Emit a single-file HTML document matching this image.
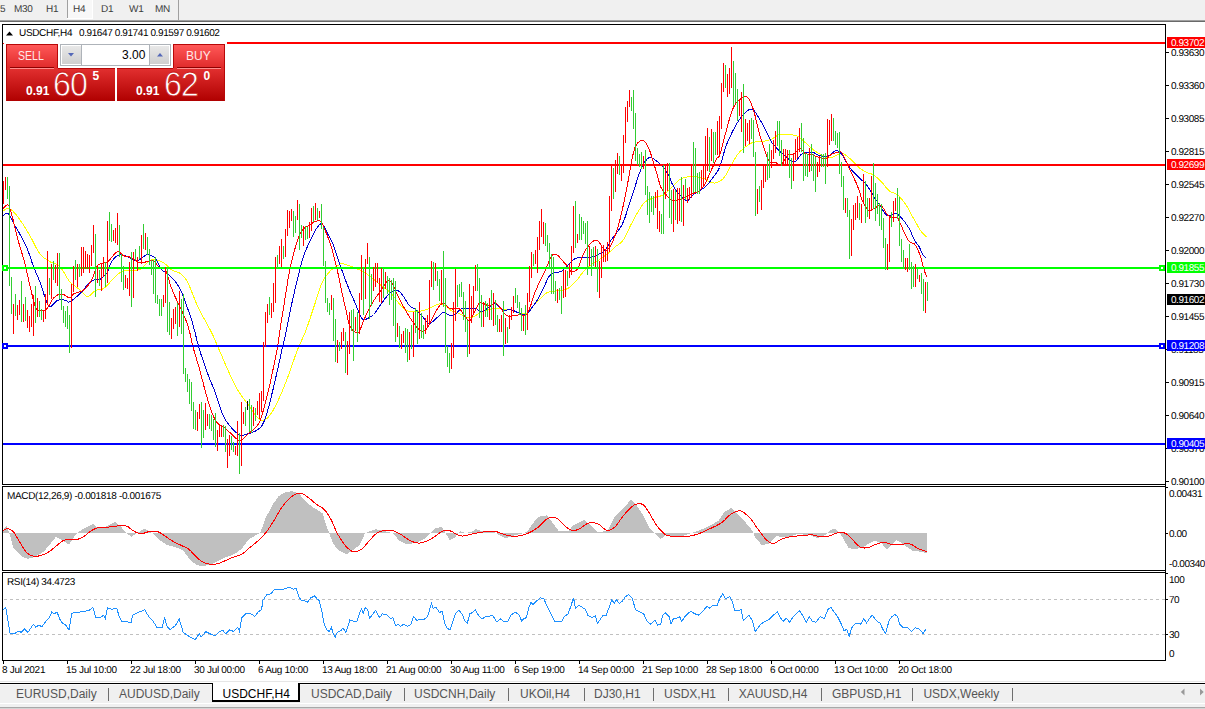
<!DOCTYPE html>
<html><head><meta charset="utf-8"><title>USDCHF,H4</title>
<style>
html,body{margin:0;padding:0;background:#fff;}
body{width:1205px;height:709px;overflow:hidden;position:relative;font-family:"Liberation Sans",sans-serif;}
.abs{position:absolute;white-space:nowrap;}
.tb{position:absolute;left:0;top:0;width:1205px;height:20px;background:#f0f0f0;}
.tbl1{position:absolute;left:0;top:20px;width:1205px;height:1px;background:#a0a0a0;}
.tbl2{position:absolute;left:0;top:21px;width:1205px;height:1px;background:#696969;}
.tf{position:absolute;top:4px;font-size:10px;line-height:10px;color:#3c3c3c;letter-spacing:-0.3px;transform:rotate(0.03deg);}
.pl{position:absolute;left:1171px;font-size:10px;line-height:10px;color:#000;letter-spacing:-0.45px;transform:rotate(0.03deg);}
.tag{position:absolute;left:1167px;width:38px;height:11px;color:#fff;}
.tag span{position:absolute;left:4px;top:1px;font-size:10px;line-height:10px;letter-spacing:-0.45px;transform:rotate(0.03deg);}
.tl{position:absolute;top:665px;font-size:10px;line-height:10px;color:#000;letter-spacing:-0.3px;transform:rotate(0.03deg);}
.tabbar{position:absolute;left:0;top:684px;width:1205px;height:23px;background:#f0f0f0;}
.tab{position:absolute;top:687px;font-size:12px;line-height:14px;color:#555;}
.sep{position:absolute;top:688px;width:1px;height:13px;background:#6e6e6e;}
</style></head><body>

<div class="tb"></div><div class="tbl1"></div><div class="tbl2"></div>
<div class="abs" style="left:67px;top:0;width:1px;height:18px;background:#a0a0a0"></div>
<div class="abs" style="left:68px;top:0;width:24px;height:18px;background:#f8f8f8"></div>
<div class="abs" style="left:92px;top:0;width:1px;height:19px;background:#fff"></div>
<div class="abs" style="left:67px;top:18px;width:26px;height:1px;background:#fff"></div>
<div class="abs" style="left:178px;top:0;width:1px;height:20px;background:#a0a0a0"></div>
<div class="tf" style="left:0px">5</div>
<div class="tf" style="left:14px">M30</div>
<div class="tf" style="left:45.5px">H1</div>
<div class="tf" style="left:72.5px">H4</div>
<div class="tf" style="left:101px">D1</div>
<div class="tf" style="left:128.5px">W1</div>
<div class="tf" style="left:155px">MN</div>
<svg id="chart" width="1205" height="709" viewBox="0 0 1205 709" style="position:absolute;left:0;top:0">
<g fill="none" stroke-width="1" shape-rendering="crispEdges">
<polyline stroke="#ffff00" points="3,210.8 3.6,210.5 4.4,210 5.4,209.4 6.4,208.9 7.6,208.5 8.8,208.4 10,208.8 10.9,209.4 11.8,210.1 12.8,211 13.7,212 14.8,213.2 15.8,214.4 16.8,215.7 17.9,217.1 18.9,218.4 19.9,219.8 20.9,221.2 21.9,222.6 22.9,224.1 23.9,225.7 24.9,227.3 25.9,229 26.9,230.6 27.9,232.3 28.9,234 29.9,235.7 30.9,237.5 31.9,239.3 32.9,241.3 33.9,243.2 34.8,245.2 35.8,247.1 36.8,249 37.8,250.7 38.8,252.3 39.8,253.7 40.8,254.9 41.8,256 42.8,256.9 43.8,257.7 44.8,258.5 45.8,259.1 46.8,259.8 47.8,260.4 48.8,261 49.8,261.6 50.8,262.2 51.8,262.6 52.8,263 53.8,263.3 54.8,263.7 55.8,264 56.8,264.5 57.8,265 58.8,265.7 59.8,266.6 60.8,267.7 61.8,269.1 62.8,270.6 63.8,272.2 64.8,273.9 65.7,275.6 66.7,277.3 67.7,278.9 68.7,280.3 69.7,281.6 70.7,282.7 71.7,283.6 72.8,284.5 73.8,285.3 74.8,286.1 75.8,286.7 76.9,287.4 77.8,288.1 78.8,288.8 79.7,289.5 80.8,290.5 81.8,291.6 82.8,292.8 83.8,293.9 84.7,294.9 85.7,295.7 86.6,296.3 87.6,296.5 88.6,296.3 89.6,295.8 90.6,295 91.6,294.1 92.6,293 93.6,292 94.6,291.1 95.6,290.5 96.6,290.1 97.6,289.9 98.6,289.7 99.6,289.6 100.6,289.5 101.6,289.3 102.6,289 103.6,288.5 104.6,287.8 105.6,287 106.5,286 107.5,285 108.5,283.9 109.5,282.8 110.5,281.7 111.6,280.6 112.5,279.7 113.5,278.7 114.5,277.7 115.5,276.7 116.5,275.7 117.6,274.7 118.6,273.7 119.6,272.9 120.6,272.2 121.5,271.6 122.6,271.1 123.6,270.8 124.6,270.6 125.5,270.6 126.4,270.6 127.4,270.7 128.4,270.7 129.5,270.6 130.4,270.5 131.4,270.5 132.4,270.5 133.4,270.5 134.4,270.5 135.5,270.4 136.5,270.3 137.5,270.2 138.5,269.9 139.4,269.6 140.5,269 141.6,268.2 142.6,267.2 143.6,266.2 144.6,265.2 145.6,264.2 146.5,263.3 147.4,262.6 148.5,261.8 149.4,261.1 150.3,260.5 151.2,260 152.2,259.7 153.4,259.6 154.2,259.6 155.2,259.8 156.1,259.9 157.2,260.2 158.2,260.5 159.3,260.8 160.3,261.2 161.4,261.6 162.4,262.1 163.3,262.6 164.4,263.3 165.4,264.1 166.4,265.1 167.4,266 168.3,267 169.3,268 170.3,268.8 171.3,269.6 172.3,270.2 173.3,270.6 174.3,271 175.3,271.4 176.4,271.7 177.4,272.1 178.4,272.5 179.4,273 180.3,273.6 181.4,274.5 182.5,275.4 183.5,276.4 184.5,277.5 185.4,278.8 186.4,280.1 187.3,281.6 188.3,283.6 189.3,285.8 190.3,288.2 191.3,290.6 192.2,293.1 193.2,295.5 194.1,297.7 195,299.9 195.8,302 196.8,304.3 197.9,306.8 199.2,309.6 200,311.2 200.9,312.9 201.9,314.7 202.9,316.6 204,318.5 205.1,320.5 206.2,322.4 207.3,324.4 208.3,326.4 209.4,328.3 210.3,330.1 211.2,331.8 212.4,334.2 213.4,336.4 214.3,338.5 215.2,340.6 216.1,342.7 217,344.9 218,347.2 219.1,349.7 220,351.7 220.9,353.8 221.9,356.1 222.9,358.4 223.9,360.8 224.9,363.2 225.9,365.5 226.9,367.8 227.9,370 228.8,372.1 229.7,374 230.8,376.4 231.8,378.5 232.7,380.5 233.6,382.4 234.5,384.2 235.4,386 236.4,387.8 237.6,389.8 238.5,391.2 239.4,392.6 240.4,394.1 241.4,395.6 242.5,397.1 243.6,398.6 244.7,400.1 245.7,401.5 246.8,403 247.8,404.3 248.7,405.6 249.6,406.8 250.7,408.3 251.7,409.8 252.7,411.2 253.6,412.5 254.5,413.7 255.3,414.9 256.1,415.9 256.9,416.9 257.6,417.7 258.7,418.9 259.7,419.9 260.5,420.5 261.4,420.7 262.5,420.7 263.4,420.5 264.3,420.1 265.3,419.6 266.3,418.9 267.4,418 268.4,417 269.5,415.7 270.4,414.5 271.4,413.1 272.3,411.6 273.3,409.9 274.3,408.1 275.3,406.2 276.4,404.1 277.5,401.8 278.4,399.8 279.4,397.7 280.4,395.5 281.4,393.2 282.4,390.7 283.4,388.2 284.4,385.7 285.5,383.1 286.5,380.5 287.5,377.9 288.5,375.2 289.5,372.4 290.5,369.5 291.5,366.6 292.6,363.6 293.6,360.7 294.6,357.8 295.5,355.1 296.5,352.4 297.4,350 298.4,347.5 299.4,345.3 300.3,343.2 301.2,341.2 302.1,339.3 303,337.3 303.9,335.4 304.8,333.3 305.7,331 306.7,328.3 307.7,325.5 308.7,322.5 309.7,319.6 310.7,316.5 311.7,313.5 312.7,310.5 313.7,307.5 314.7,304.4 315.7,301.3 316.7,298 317.7,294.8 318.7,291.7 319.7,288.7 320.7,286 321.7,283.6 322.7,281.5 323.7,279.6 324.7,278 325.7,276.5 326.6,275.2 327.6,274 328.6,272.8 329.6,271.7 330.6,270.6 331.7,269.7 332.7,268.8 333.8,268.1 334.8,267.4 335.8,266.8 336.7,266.2 337.6,265.7 338.7,265 339.6,264.4 340.5,263.9 341.4,263.7 342.6,263.7 343.4,263.8 344.3,264 345.2,264.3 346.2,264.6 347.2,265 348.2,265.4 349.3,265.8 350.5,266.3 351.6,266.7 352.5,267 353.5,267.4 354.5,267.8 355.5,268.2 356.6,268.6 357.6,269 358.7,269.5 359.7,269.9 360.7,270.3 361.7,270.8 362.6,271.2 363.5,271.7 364.7,272.4 365.7,273.1 366.7,273.8 367.6,274.5 368.5,275.2 369.5,276 370.4,276.8 371.5,277.6 372.4,278.3 373.4,279.1 374.3,279.8 375.3,280.6 376.3,281.5 377.3,282.3 378.4,283.1 379.4,284 380.4,284.8 381.4,285.6 382.4,286.4 383.5,287.2 384.5,288 385.6,288.8 386.6,289.6 387.7,290.4 388.7,291.2 389.7,292 390.6,292.8 391.4,293.6 392.6,294.9 393.6,296.3 394.5,297.6 395.4,298.9 396.3,300.3 397.4,301.6 398.3,302.6 399.2,303.7 400.2,304.8 401.2,305.9 402.2,306.9 403.3,307.9 404.3,308.8 405.3,309.5 406.3,310.1 407.2,310.6 408.2,311 409.2,311.3 410.1,311.5 411.2,311.7 412.2,311.8 413.3,311.9 414.2,311.9 415.2,311.9 416.2,311.8 417.3,311.7 418.3,311.5 419.4,311.4 420.4,311.2 421.4,310.9 422.4,310.7 423.3,310.5 424.4,310.2 425.4,309.9 426.4,309.5 427.4,309.1 428.3,308.7 429.3,308.3 430.2,307.9 431.2,307.5 432.2,307 433.2,306.5 434.3,306 435.3,305.4 436.3,304.9 437.3,304.4 438.3,304.1 439.2,303.9 440.3,303.8 441.3,303.9 442.3,304.2 443.3,304.5 444.2,305 445.2,305.5 446.2,306.2 447.1,307 448.1,307.9 449.1,308.9 450.1,309.7 451.2,310.5 452.1,311 453,311.4 454,311.7 455,312.1 456,312.4 457.1,312.7 458.1,313.1 459.1,313.5 460.1,314 461.1,314.5 462.2,315.1 463.2,315.7 464.2,316.3 465.2,316.8 466.2,317.2 467.1,317.5 468.2,317.7 469.2,317.9 470.1,317.9 471,317.8 472,317.5 473.1,317.1 473.9,316.7 474.8,316.2 475.6,315.6 476.5,315 477.5,314.3 478.4,313.6 479.4,313 480.4,312.4 481.4,311.9 482.3,311.5 483.3,311.1 484.3,310.7 485.3,310.4 486.3,310.1 487.3,309.8 488.4,309.5 489.4,309.3 490.4,309.1 491.4,308.9 492.4,308.8 493.4,308.7 494.4,308.6 495.4,308.6 496.3,308.6 497.3,308.7 498.3,308.7 499.3,308.8 500.3,308.8 501.3,308.9 502.3,309 503.3,309 504.4,309.1 505.4,309.1 506.4,309.2 507.4,309.3 508.5,309.4 509.4,309.6 510.4,309.7 511.3,309.9 512.4,310.2 513.4,310.6 514.5,311 515.4,311.4 516.4,311.9 517.3,312.3 518.3,312.6 519.2,312.9 520.3,313.2 521.4,313.4 522.4,313.6 523.5,313.7 524.5,313.7 525.4,313.7 526.2,313.5 527.3,312.9 528.1,312 528.9,310.8 530,309.4 530.8,308.6 531.6,307.7 532.6,306.7 533.6,305.7 534.6,304.6 535.7,303.6 536.7,302.5 537.7,301.5 538.7,300.5 539.7,299.4 540.8,298.2 541.8,297.1 542.8,296.1 543.8,295.1 544.8,294.2 545.7,293.5 546.8,292.8 547.8,292.4 548.7,292.1 549.6,291.9 550.6,291.7 551.7,291.5 552.6,291.3 553.5,291.2 554.5,291.1 555.5,291 556.5,290.9 557.6,290.8 558.6,290.7 559.6,290.5 560.6,290.3 561.6,290.2 562.6,290 563.6,289.9 564.6,289.7 565.6,289.4 566.6,289 567.6,288.5 568.6,287.9 569.6,287.2 570.6,286.4 571.6,285.6 572.6,284.6 573.6,283.7 574.6,282.6 575.6,281.6 576.6,280.5 577.6,279.2 578.6,277.9 579.6,276.6 580.5,275.3 581.5,274 582.5,272.7 583.5,271.6 584.5,270.6 585.5,269.6 586.5,268.7 587.5,267.8 588.5,266.9 589.5,266.1 590.5,265.4 591.5,264.6 592.5,263.9 593.5,263.2 594.5,262.6 595.5,262 596.5,261.5 597.5,260.9 598.5,260.3 599.5,259.6 600.5,258.9 601.5,258.2 602.5,257.5 603.5,256.8 604.5,256 605.5,255.3 606.5,254.5 607.5,253.7 608.5,252.9 609.5,252 610.5,251.2 611.5,250.3 612.4,249.4 613.4,248.5 614.4,247.6 615.4,246.7 616.4,245.9 617.4,245.2 618.4,244.5 619.4,243.8 620.4,243 621.4,242.1 622.4,241 623.4,239.7 624.4,238.1 625.4,236.3 626.4,234.3 627.4,232.2 628.4,230 629.4,227.8 630.4,225.8 631.4,223.8 632.4,221.9 633.4,220 634.5,218.1 635.5,216.3 636.5,214.5 637.5,212.8 638.4,211.2 639.3,209.8 640.4,208.1 641.4,206.6 642.3,205.2 643.2,204 644.2,202.9 645.3,201.9 646.2,201.2 647.1,200.6 648.1,200.1 649.1,199.6 650.1,199.2 651.1,198.7 652.2,198.3 653.3,197.9 654.2,197.6 655.2,197.3 656.2,197.1 657.2,196.8 658.2,196.6 659.3,196.3 660.3,196.1 661.3,195.7 662.3,195.4 663.2,194.9 664.3,194.2 665.3,193.5 666.3,192.6 667.3,191.7 668.3,190.8 669.2,189.8 670.2,188.8 671.2,187.9 672.2,186.9 673.2,185.9 674.2,184.8 675.2,183.7 676.2,182.6 677.2,181.7 678.2,180.8 679.2,180 680.2,179.4 681.1,178.8 682.1,178.4 683,178 684,177.7 685,177.4 686,177.2 687.1,177 688,176.9 689,176.8 690,176.7 691,176.7 692.1,176.7 693.1,176.7 694.2,176.8 695.2,176.8 696.2,176.9 697.1,177 698.2,177.1 699.3,177.3 700.4,177.6 701.4,177.8 702.4,178.1 703.4,178.4 704.3,178.7 705.1,179 706.3,179.6 707.2,180.2 708.1,180.9 709,181.5 710,182 710.9,182.3 711.8,182.6 712.8,182.9 713.8,183 714.9,183 716,182.8 716.9,182.5 717.8,182.2 718.8,181.7 719.8,181.2 720.8,180.6 721.9,179.8 722.9,178.9 723.9,177.8 724.9,176.5 725.9,174.9 726.9,173.2 727.9,171.3 728.9,169.4 729.9,167.5 730.9,165.6 731.9,163.9 732.9,162.3 733.8,160.7 734.7,159.1 735.6,157.6 736.5,156.1 737.5,154.6 738.6,153.2 739.8,151.9 740.7,151 741.6,150.1 742.6,149.3 743.6,148.4 744.6,147.5 745.7,146.7 746.7,146 747.8,145.2 748.8,144.5 749.9,143.9 750.9,143.4 751.8,142.9 752.9,142.5 753.9,142.2 755,142 755.9,141.9 756.9,141.8 757.9,141.8 758.9,141.8 759.8,141.8 760.8,141.7 761.8,141.6 762.8,141.4 763.8,141.2 764.8,141 765.9,140.7 766.9,140.5 767.9,140.2 768.9,140 769.8,139.7 770.8,139.3 771.7,139 772.8,138.5 773.8,137.9 774.8,137.2 775.8,136.5 776.8,135.9 777.8,135.3 778.7,134.8 779.7,134.4 780.7,134.2 781.6,134 782.6,134 783.5,134 784.5,134.1 785.5,134.2 786.5,134.3 787.6,134.4 788.5,134.5 789.5,134.6 790.5,134.7 791.5,134.8 792.6,135 793.6,135.2 794.7,135.4 795.7,135.7 796.7,136 797.6,136.4 798.7,137 799.7,137.7 800.8,138.5 801.7,139.3 802.7,140.2 803.7,141.1 804.6,142 805.6,142.9 806.6,143.8 807.6,144.7 808.6,145.6 809.6,146.5 810.5,147.4 811.5,148.3 812.5,149.1 813.5,149.9 814.5,150.6 815.5,151.3 816.5,152 817.5,152.7 818.5,153.3 819.5,153.8 820.5,154.4 821.5,154.9 822.5,155.4 823.5,155.9 824.5,156.4 825.5,156.9 826.5,157.3 827.5,157.6 828.5,157.8 829.5,157.9 830.5,157.8 831.5,157.5 832.6,157.1 833.6,156.7 834.7,156.1 835.6,155.7 836.6,155.2 837.5,154.9 838.6,154.5 839.5,154.2 840.5,153.8 841.4,153.6 842.3,153.6 843.4,153.9 844.3,154.3 845.3,154.9 846.2,155.6 847.3,156.3 848.3,157.2 849.4,158.1 850.4,159 851.4,159.9 852.4,160.8 853.4,161.8 854.4,162.9 855.4,163.9 856.4,165 857.4,166 858.4,166.9 859.4,167.8 860.4,168.6 861.4,169.3 862.5,170 863.5,170.7 864.5,171.3 865.5,171.8 866.4,172.3 867.3,172.8 868.4,173.2 869.4,173.5 870.3,173.7 871.2,173.9 872.2,174.2 873.3,174.8 874.2,175.4 875.2,176.2 876.2,177 877.2,177.9 878.2,178.8 879.3,179.8 880.3,180.8 881.3,181.8 882.3,182.9 883.3,184 884.3,185.3 885.2,186.5 886.2,187.7 887.2,188.9 888.2,189.9 889.2,190.8 890.2,191.5 891.2,192 892.2,192.4 893.2,192.8 894.2,193.1 895.2,193.5 896.2,194 897.2,194.7 898.2,195.5 899.2,196.5 900.2,197.5 901.2,198.6 902.2,199.7 903.2,201 904.2,202.3 905.2,203.7 906.2,205.2 907.2,206.9 908.2,208.6 909.2,210.4 910.2,212.2 911.2,214.1 912.1,215.9 913.1,217.6 914.1,219.3 915,221.1 916,222.8 917,224.6 917.9,226.2 918.8,227.8 919.7,229.3 920.6,230.6 921.8,232.1 922.9,233.5 924.1,234.7 925.1,235.7 926,236.6 926.6,237.2"/>
<polyline stroke="#0000d0" points="3,215.8 3.7,215.3 4.6,214.4 5.7,213.6 6.9,213.1 8,213.4 8.9,214.3 9.7,215.5 10.5,217.1 11.4,219 12.6,221.3 13.9,223.8 14.7,225.2 15.6,226.8 16.6,228.5 17.6,230.2 18.7,232.1 19.8,234 20.9,236 22,238 23,240 24.1,241.9 25,243.8 25.9,245.7 27.1,248.5 28.2,251.4 29.3,254.3 30.3,257.1 31.2,260 32.1,262.7 33,265.2 33.9,267.6 35,270.3 36,272.7 37,274.9 37.9,276.9 38.8,279.1 39.8,281.6 40.8,284.5 41.9,287.7 42.9,291 43.9,294.2 44.9,297.1 45.8,299.5 46.8,302.4 47.7,304.7 48.6,306.3 49.8,306.9 50.6,306.7 51.5,306.1 52.5,305.2 53.6,304.1 54.6,302.9 55.7,301.8 56.8,300.9 57.8,300.3 58.8,300 59.9,299.8 60.9,299.7 62,299.8 63,299.9 64,300 64.9,300.2 65.7,300.3 66.8,300.8 67.6,301.6 68.4,302.1 69.7,301.9 70.5,301.5 71.3,300.9 72.3,300.2 73.4,299.4 74.5,298.6 75.6,297.6 76.7,296.7 77.7,295.7 78.8,294.8 79.7,293.9 80.8,292.8 81.9,291.6 82.9,290.4 83.9,289.2 84.9,288 85.8,286.9 86.7,285.8 87.6,284.9 88.7,283.8 89.7,282.8 90.7,281.9 91.7,281.1 92.6,280.5 93.6,280 94.6,279.8 95.5,279.8 96.5,280 97.5,280.1 98.5,280 99.6,279.6 100.5,279 101.6,278.3 102.6,277.4 103.7,276.4 104.8,275.4 105.8,274.3 106.8,273.1 107.6,272 108.8,269.5 109.6,266.8 110.4,264 111.6,261.6 112.4,260.5 113.3,259.4 114.2,258.3 115.2,257.3 116.2,256.4 117.3,255.7 118.4,255.1 119.5,254.7 120.4,254.6 121.4,254.7 122.4,254.8 123.4,255.1 124.5,255.5 125.5,256 126.6,256.4 127.6,256.9 128.6,257.3 129.5,257.6 130.6,258 131.6,258.6 132.6,259.1 133.5,259.7 134.4,260.1 135.4,260.5 136.4,260.7 137.5,260.6 138.4,260.3 139.4,259.8 140.4,259.2 141.4,258.4 142.4,257.6 143.5,256.8 144.5,256 145.5,255.4 146.5,254.9 147.4,254.7 148.5,254.7 149.6,254.8 150.6,255.1 151.6,255.6 152.6,256.2 153.6,256.9 154.5,257.7 155.4,258.6 156.5,260.1 157.6,262 158.5,264.1 159.5,266.2 160.4,268.1 161.4,269.6 162.4,270.6 163.3,271.3 164.2,271.8 165.2,272.2 166.2,272.8 167.3,273.6 168.2,274.4 169.2,275.3 170.2,276.2 171.3,277.2 172.4,278.3 173.4,279.4 174.4,280.5 175.3,281.6 176.4,283.1 177.4,284.5 178.4,286.1 179.4,287.7 180.3,289.5 181.3,291.5 182.3,293.8 183.3,296.4 184.4,299.2 185.4,302.1 186.4,304.9 187.3,307.5 188.3,310.3 189.2,312.7 190.1,315.3 191.1,318.2 192.2,321.8 193.1,325 194,328.6 195,332.4 196,336.5 197,340.6 198.1,344.6 199.2,348.5 200.1,351.4 201,354.4 202,357.3 203,360.2 203.9,363.1 204.9,366 205.9,368.7 206.9,371.4 207.8,374 208.8,376.7 209.8,379.3 210.9,381.8 211.9,384.2 212.8,386.5 213.8,388.9 214.8,391.3 215.7,393.8 216.7,396.8 217.8,400 218.8,403.2 219.7,406.4 220.7,409.4 221.7,412.2 222.7,414.7 223.7,416.8 224.7,418.7 225.7,420.3 226.6,421.7 227.6,423.1 228.7,424.4 229.7,425.7 230.7,426.9 231.7,428.1 232.8,429.2 233.8,430.3 234.9,431.3 235.9,432.2 236.8,433 237.6,433.7 238.8,434.6 239.6,435.1 240.4,435.3 241.6,435.3 242.4,435.2 243.3,435.1 244.3,434.9 245.3,434.6 246.4,434.3 247.5,434 248.6,433.7 249.6,433.3 250.5,433 251.4,432.7 252.3,432.3 253.3,432 254.2,431.6 255.1,431.2 256,430.8 256.8,430.3 257.6,429.7 258.7,428.9 259.7,428.1 260.7,427.2 261.6,426 262.5,424.6 263.5,422.7 264.5,420.4 265.4,417.8 266.4,414.9 267.3,411.6 268.4,407.9 269.5,403.8 270.4,400.2 271.4,396.1 272.5,391.6 273.6,387 274.7,382.3 275.7,377.8 276.7,373.7 277.5,370 278.6,365.1 279.5,361 280.3,357.3 281.1,353.7 281.9,350 282.7,346.3 283.6,342.7 284.4,339.2 285.3,335.3 286.2,331 287.1,326.9 288,322.4 288.9,317.7 289.9,312.9 290.8,308.1 291.8,303.5 292.8,299 293.8,294.6 294.8,290.2 295.8,285.9 296.8,281.7 297.8,277.6 298.8,273.6 299.8,269.7 300.7,265.9 301.7,262.3 302.7,258.8 303.7,255.7 304.7,252.9 305.7,250.4 306.7,248.1 307.7,246 308.7,243.9 309.7,241.8 310.7,239.6 311.7,237.4 312.7,235.3 313.7,233.3 314.7,231.4 315.7,229.8 316.7,228.3 317.7,226.8 318.7,225.5 319.7,224.5 320.7,223.9 321.7,223.9 322.7,224.6 323.7,226 324.7,227.7 325.6,229.8 326.6,231.8 327.6,233.8 328.6,235.6 329.6,237.4 330.6,239.3 331.6,241.3 332.6,243.4 333.6,245.8 334.6,248.4 335.5,251.2 336.5,254.1 337.5,257.2 338.5,260.4 339.6,263.7 340.5,266.3 341.5,269 342.5,271.9 343.5,274.8 344.6,277.6 345.6,280.4 346.6,283.1 347.6,285.6 348.7,288.2 349.7,290.7 350.7,293.1 351.7,295.3 352.7,297.5 353.6,299.6 354.5,301.6 355.6,304.3 356.7,306.9 357.6,309.4 358.6,311.6 359.5,313.5 360.3,315.3 361.1,316.9 361.8,318.2 362.7,319.1 363.9,319.5 364.7,319.5 365.5,319.3 366.5,319 367.4,318.6 368.5,318.1 369.5,317.5 370.6,316.8 371.6,316.1 372.6,315.3 373.5,314.5 374.6,313.4 375.6,312.1 376.6,310.7 377.6,309.2 378.6,307.7 379.5,306.2 380.5,304.8 381.4,303.5 382.5,302.1 383.5,300.7 384.5,299.3 385.5,298 386.5,296.7 387.5,295.6 388.4,294.6 389.5,293.6 390.5,292.7 391.5,292 392.5,291.4 393.5,290.9 394.4,290.6 395.5,290.4 396.5,290.4 397.5,290.6 398.4,291 399.4,291.6 400.4,292.4 401.4,293.5 402.3,294.8 403.3,296.2 404.3,297.6 405.3,299.1 406.2,300.8 407.2,302.5 408.2,304.1 409.3,305.5 410.2,306.3 411.2,307 412.1,307.5 413.1,308 414.2,308.6 415.3,309.5 416.2,310.3 417.2,311.3 418.2,312.3 419.3,313.4 420.4,314.5 421.4,315.5 422.4,316.6 423.3,317.5 424.4,318.8 425.3,320.1 426.2,321.4 427.2,322.5 428.1,323.2 429.2,323.5 430.1,323.3 431.1,322.8 432.1,322.1 433.2,321.2 434.3,320.2 435.3,319.2 436.3,318.3 437.2,317.5 438.3,316.5 439.3,315.5 440.3,314.5 441.3,313.6 442.2,312.9 443.2,312.5 444.2,312.5 445.2,312.9 446.2,313.5 447.2,314.2 448.2,314.8 449.2,315.1 450.2,315.2 451.2,315.3 452.2,315.3 453.1,315.2 454.1,314.9 455.1,314.5 456.1,313.8 457,312.8 458,311.7 458.9,310.6 460,309.6 461.1,308.9 462,308.6 463,308.4 464,308.4 465,308.3 466.1,308.4 467.1,308.4 468.1,308.5 469.1,308.5 470.2,308.4 471.2,308.4 472.3,308.3 473.3,308.2 474.3,308.2 475.2,308.3 476.1,308.5 477.1,309 477.9,309.7 478.7,310.5 479.5,311.3 480.4,311.8 481.4,311.9 482.3,311.7 483.3,311.2 484.3,310.6 485.4,309.8 486.4,309 487.5,308.2 488.5,307.5 489.4,306.9 490.5,306.2 491.4,305.4 492.3,304.7 493.3,304.2 494.2,303.9 495.3,303.9 496.2,304.3 497.2,304.9 498.1,305.8 499.2,306.7 500.2,307.7 501.3,308.6 502.3,309.4 503.3,309.9 504.3,310.2 505.3,310.2 506.2,310.2 507.2,310 508.2,309.9 509.2,309.8 510.2,309.7 511.3,309.9 512.2,310.2 513.2,310.5 514.3,310.9 515.3,311.4 516.4,311.9 517.4,312.4 518.5,312.9 519.4,313.3 520.4,313.6 521.2,313.9 522.5,314.2 523.6,314.4 524.6,314.5 525.5,314.4 526.4,314.2 527.2,313.9 528.2,313.1 529.1,312 529.9,310.7 531,309 531.8,307.9 532.7,306.7 533.7,305.4 534.7,304 535.8,302.5 536.8,301 537.7,299.5 538.7,297.6 539.8,295.7 540.7,293.7 541.7,291.6 542.7,289.5 543.7,287.5 544.7,285.4 545.7,283.2 546.7,281 547.7,278.9 548.7,277.1 549.7,275.6 550.7,274.6 551.7,273.9 552.7,273.4 553.7,273.2 554.7,272.9 555.7,272.6 556.7,272.3 557.7,272.2 558.7,272.1 559.6,271.9 560.6,271.7 561.6,271.2 562.6,270.5 563.6,269.7 564.6,268.7 565.6,267.7 566.6,266.6 567.6,265.6 568.6,264.6 569.6,263.5 570.6,262.4 571.6,261.3 572.6,260.4 573.6,259.6 574.6,259 575.5,258.5 576.4,258.1 577.3,257.7 578.4,257.5 579.6,257.3 580.4,257.2 581.4,257.2 582.3,257.3 583.4,257.4 584.4,257.5 585.5,257.6 586.5,257.7 587.6,257.7 588.6,257.7 589.5,257.6 590.6,257.4 591.6,257.1 592.6,256.8 593.6,256.5 594.6,256.1 595.5,255.6 596.5,255.2 597.5,254.7 598.5,254.2 599.5,253.7 600.6,253.2 601.6,252.6 602.7,252 603.6,251.4 604.6,250.6 605.5,249.7 606.6,248.3 607.6,246.7 608.6,244.9 609.5,243.1 610.4,241.3 611.4,239.7 612.4,238.3 613.4,237 614.4,235.7 615.4,234.5 616.4,233.2 617.4,231.8 618.4,230.3 619.4,228.9 620.4,227.4 621.4,225.8 622.4,223.9 623.4,221.8 624.4,219.3 625.4,216.4 626.4,213.4 627.4,210.2 628.4,207 629.4,203.9 630.4,200.8 631.5,197.6 632.6,194.3 633.6,191.2 634.5,188.4 635.3,185.9 636.3,182.6 636.8,180.3 637.8,177.4 638.6,175.3 639.5,172.9 640.6,170.3 641.7,167.7 642.8,165.4 643.8,163.5 644.8,161.9 645.8,160.6 646.8,159.4 647.8,158.5 648.8,157.9 649.8,157.5 650.8,157.4 651.7,157.7 652.7,158.2 653.7,158.9 654.7,159.7 655.8,160.5 656.7,161.2 657.7,161.9 658.7,162.7 659.8,163.6 660.8,164.5 661.8,165.5 662.8,166.5 663.7,167.5 664.9,169 666,170.8 667.1,172.6 668.1,174.4 669,176 669.7,177.4 670.5,179.7 671.2,182 671.9,183.4 672.9,185.1 673.9,186.9 675,188.7 676.2,190.4 677.2,191.9 678.2,193.2 679.2,194.3 680.3,195.3 681.3,196.3 682.2,197.1 683.1,197.9 684.2,199.1 685.1,200.2 686,200.9 687.1,200.9 688,200.4 689,199.5 690,198.3 691,197.1 692.1,195.9 693.1,194.9 694.1,194.1 695.1,193.4 696.1,192.8 697.1,192.2 698.1,191.5 699.1,190.9 700.1,190.3 701.1,189.7 702.1,189.1 703.1,188.5 704.1,187.8 705.1,186.9 706,186.1 706.9,185.1 707.8,184.2 708.7,183.1 709.6,182 710.6,180.7 711.6,179.4 712.5,178.2 713.5,176.9 714.5,175.6 715.6,174.2 716.6,172.7 717.6,171.1 718.6,169.4 719.5,167.5 720.6,164.6 721.6,161.3 722.6,157.8 723.5,154.2 724.5,150.8 725.5,147.6 726.4,145.1 727.4,142.6 728.4,140.3 729.5,138 730.5,135.8 731.5,133.6 732.5,131.6 733.5,129.7 734.5,127.8 735.5,126 736.4,124.3 737.4,122.7 738.4,121.2 739.4,119.7 740.4,118.3 741.4,117 742.4,115.7 743.5,114.5 744.5,113.5 745.5,112.5 746.4,111.7 747.4,110.8 748.4,110 749.4,109.4 750.4,109 751.4,109 752.4,109.3 753.4,110 754.4,111.1 755.4,112.4 756.4,113.9 757.5,115.6 758.4,117.2 759.4,118.7 760.4,120.4 761.4,122.2 762.4,124 763.4,125.8 764.3,127.7 765.3,129.6 766.3,131.6 767.3,133.7 768.3,135.8 769.3,137.9 770.3,139.9 771.3,141.6 772.3,143.1 773.3,144.3 774.3,145.5 775.3,146.5 776.3,147.6 777.3,148.6 778.3,149.7 779.3,150.7 780.3,151.7 781.3,152.6 782.3,153.6 783.3,154.5 784.3,155.4 785.3,156.3 786.2,157.2 787.2,158.1 788.2,158.9 789.2,159.5 790.2,160.1 791.2,160.7 792.2,161.2 793.2,161.6 794.2,161.7 795.2,161.5 796.2,160.8 797.2,159.6 798.2,158.2 799.2,156.8 800.2,155.5 801.2,154.5 802.2,153.9 803.2,153.4 804.2,153.1 805.2,152.8 806.2,152.7 807.2,152.5 808.2,152.3 809.2,152.2 810.2,152.2 811.1,152.2 812.1,152.3 813.1,152.5 814.1,152.8 815,153.4 816,153.9 816.9,154.5 818,155.1 819.1,155.5 820,155.8 820.9,156 821.9,156.3 822.9,156.5 824,156.7 825,156.8 826.1,156.7 827.1,156.5 828,156.1 829,155.5 830,154.8 830.9,154 831.9,153.2 832.9,152.4 833.8,151.7 834.7,151.2 835.5,150.9 836.6,150.8 837.6,151 838.6,151.4 839.5,152.1 840.4,152.9 841.4,153.9 842.4,155.2 843.5,156.9 844.5,158.7 845.5,160.6 846.5,162.4 847.4,163.9 848.4,165.6 849.3,167 850.2,168.3 851.4,169.8 852.2,170.7 853.1,171.7 854.1,172.6 855.2,173.7 856.2,174.7 857.3,175.8 858.4,176.8 859.4,177.8 860.4,178.8 861.4,179.8 862.5,180.7 863.5,181.7 864.5,182.7 865.5,183.7 866.4,184.7 867.3,185.8 868.4,187.4 869.4,189 870.4,190.7 871.4,192.4 872.3,194.1 873.3,195.7 874.3,197.2 875.2,198.7 876.2,200.1 877.2,201.6 878.2,203.1 879.3,204.7 880.2,206.1 881.2,207.6 882.2,209.3 883.2,210.9 884.2,212.5 885.3,213.8 886.3,215 887.3,215.7 888.3,216 889.3,215.9 890.4,215.5 891.4,214.9 892.4,214.3 893.4,213.7 894.3,213.4 895.2,213.3 896.3,213.6 897.3,214 898.2,214.6 899.1,215.4 900.1,216.4 901.2,217.6 902.1,218.7 903.1,219.9 904.2,221.2 905.3,222.7 906.3,224.2 907.4,225.7 908.3,227.2 909.2,228.6 910.2,230.5 911.1,232.4 911.9,234.4 912.7,236.3 913.5,238.1 914.3,239.7 915.3,241.4 916.3,242.8 917.3,244.1 918.3,245.4 919.2,246.8 920.2,248.8 921.1,250.9 921.9,252.9 922.8,254.6 923.8,255.9 924.9,257 925.9,257.8 926.6,258.4"/>
<polyline stroke="#ff0000" points="3,208.8 3.7,208 4.7,206.8 5.8,205.6 7,204.8 8,204.9 9,206.3 9.9,208.6 10.9,211.8 12,215.8 12.9,219 13.8,222.8 14.8,226.9 15.8,231.3 16.8,235.6 17.9,239.7 18.9,243.1 19.9,246.6 20.9,250 22,253.5 23,256.9 24,260.3 24.9,263.6 26,268.1 27,272.6 28,277 28.9,281.3 29.9,285.5 30.9,289.9 32,294.4 33,298.7 34,302.5 34.9,305.5 35.7,307.8 36.3,309 36.9,309.6 38,310 38.7,310.3 39.6,310.6 40.6,310.8 41.6,310.9 42.7,310.9 43.7,310.8 44.8,310.4 45.8,309.8 46.8,308.8 47.8,307.5 48.8,305.8 49.8,304.1 50.8,302.3 51.8,300.6 52.8,299.1 53.8,297.9 54.8,297 55.8,296.2 56.8,295.5 57.8,294.9 58.8,294.5 59.8,294.2 60.8,294 61.8,293.9 62.8,294.1 63.9,294.5 64.9,295.2 66,295.9 67,296.6 68,297.3 68.9,297.7 69.7,297.9 70.8,297.5 71.6,296.4 72.4,295.1 73.7,293.9 74.5,293.5 75.3,293.2 76.3,292.9 77.4,292.6 78.5,292.3 79.6,291.9 80.7,291.5 81.7,291.1 82.8,290.5 83.7,289.9 84.8,289 85.9,287.9 86.9,286.8 87.9,285.6 88.9,284.3 89.8,282.9 90.7,281.5 91.6,280 92.7,277.7 93.6,275.1 94.5,272.4 95.4,269.8 96.4,267.5 97.6,265.6 98.4,264.8 99.3,264.2 100.3,263.8 101.3,263.5 102.4,263.3 103.4,263.1 104.5,262.9 105.5,262.6 106.6,262.2 107.6,261.6 108.6,260.8 109.6,259.8 110.7,258.6 111.8,257.4 112.8,256.1 113.8,254.9 114.8,253.8 115.8,252.9 116.7,252.2 117.5,251.7 118.7,251.6 119.7,252.1 120.6,253 121.5,254 122.4,255 123.5,255.7 124.4,256 125.4,256.2 126.4,256.4 127.4,256.6 128.4,256.8 129.5,257 130.5,257.2 131.5,257.6 132.5,258.1 133.5,258.8 134.5,259.5 135.4,260.3 136.4,261 137.4,261.7 138.4,262.2 139.4,262.6 140.4,262.8 141.4,262.8 142.5,262.7 143.5,262.5 144.5,262.2 145.5,262 146.5,261.8 147.4,261.6 148.5,261.3 149.5,261 150.5,260.6 151.5,260.3 152.4,260.3 153.4,260.6 154.4,261.4 155.4,262.5 156.4,263.9 157.4,265.3 158.4,266.6 159.4,267.6 160.4,268 161.4,268 162.4,267.9 163.3,267.9 164.3,268.4 165.3,269.6 166.3,271.7 167.3,274.5 168.3,277.8 169.3,281.2 170.3,284.6 171.3,287.5 172.3,290 173.2,292.1 174.1,294.2 175,296.4 176.1,298.7 177.3,301.5 178.2,303.4 179.1,305.4 180.1,307.5 181.2,309.7 182.3,312 183.4,314.4 184.5,316.7 185.5,319.1 186.4,321.5 187.3,323.8 188.5,327.7 189.6,331.7 190.5,335.8 191.4,339.9 192.2,343.8 193.2,347.7 194.1,350.8 194.9,353.7 195.8,356.5 196.6,359.3 197.5,362.3 198.5,365.5 199.5,369 200.3,372.1 201.2,375.4 202.1,379 203.1,382.7 204,386.4 205,390.1 205.9,393.6 206.9,397 207.8,400 208.8,403.2 209.8,406.2 210.7,409.1 211.6,411.8 212.6,414.3 213.6,416.7 214.6,418.8 215.7,420.7 216.6,422 217.5,423.1 218.5,423.9 219.5,424.7 220.4,425.3 221.5,425.9 222.5,426.5 223.5,427.1 224.6,427.8 225.7,428.7 226.7,429.5 227.7,430.5 228.7,431.5 229.8,432.5 230.9,433.6 232,434.6 233.1,435.7 234.1,436.6 235.1,437.5 236.1,438.4 236.9,439.1 237.6,439.6 239.1,440.6 239.8,440.9 240.5,440.7 241.6,440 242.4,439.5 243.3,438.8 244.3,437.9 245.3,436.9 246.4,435.9 247.4,434.8 248.5,433.7 249.6,432.7 250.5,431.9 251.4,431.1 252.4,430.3 253.3,429.5 254.3,428.6 255.2,427.7 256.2,426.8 257,425.8 257.9,424.8 258.6,423.7 259.8,421.4 260.8,419 261.7,416.3 262.5,413.3 263.5,409.8 264.4,406.5 265.4,403 266.3,399.2 267.3,395.1 268.4,390.7 269.5,385.9 270.4,381.9 271.4,377.4 272.4,372.6 273.4,367.6 274.5,362.8 275.4,358.1 276.3,353.8 277,350 278.2,342.9 278.9,337.6 279.8,331 280.7,325.5 281.6,319.3 282.7,312.6 283.8,306 284.8,299.6 285.8,293.4 286.8,287.2 287.7,281.2 288.7,275.3 289.8,269.7 290.7,265.3 291.7,261 292.7,256.8 293.8,252.9 294.8,249.2 295.8,245.8 296.8,242.7 297.7,239.8 298.7,237.2 299.7,234.8 300.7,232.7 301.8,230.8 302.7,229.6 303.7,228.6 304.7,227.8 305.7,227.1 306.8,226.5 307.8,226 308.8,225.5 309.7,224.9 310.8,224.1 311.9,223.5 312.9,222.8 313.8,222.3 314.8,221.8 315.7,221.5 316.8,221.1 317.8,220.8 318.7,220.6 319.7,220.8 320.7,221.5 321.7,222.8 322.7,224.6 323.6,226.8 324.6,229.2 325.7,231.8 326.6,234 327.6,236.4 328.6,238.9 329.6,241.7 330.6,244.6 331.6,247.8 332.6,251.4 333.7,255.5 334.8,259.7 335.8,264 336.7,268.1 337.6,271.7 338.6,276.2 339.4,280 340.1,283.7 341,288 341.9,292.1 342.9,296.6 343.9,301.3 345,305.8 345.9,309.9 346.9,314.5 347.7,318.8 348.6,322.7 349.9,325.9 350.7,327.3 351.7,328.7 352.7,330 353.8,331.2 354.9,332.1 355.9,332.7 357,332.9 357.9,332.8 359,331.8 360,330.1 360.9,327.8 361.8,325.2 362.8,322.5 363.9,319.9 364.8,318 365.7,316 366.7,313.9 367.7,311.8 368.7,309.7 369.8,307.7 370.8,305.7 371.8,303.9 372.8,302.2 373.8,300.6 374.8,299.1 375.8,297.6 376.8,296.2 377.8,294.8 378.8,293.4 379.8,292 380.8,290.5 381.8,288.9 382.8,287.3 383.8,285.7 384.8,284.2 385.7,282.9 386.6,281.9 387.4,281.2 388.6,280.7 389.6,280.8 390.5,281.4 391.4,282.3 392.4,283.6 393.4,285.3 394.3,287.5 395.3,290 396.3,292.6 397.4,295 398.2,296.6 399,298.2 399.8,299.8 400.7,301.4 401.6,303.1 402.5,304.8 403.5,306.5 404.4,308.1 405.4,309.8 406.4,311.6 407.4,313.3 408.4,315.1 409.5,316.8 410.5,318.5 411.5,320 412.5,321.5 413.5,323 414.6,324.4 415.6,325.8 416.6,327.1 417.6,328.3 418.6,329.3 419.5,330 420.5,330.6 421.4,331 422.3,331.2 423.1,331.2 423.9,331 424.8,330.6 425.6,330 426.6,328.9 427.5,327.5 428.5,325.8 429.4,323.9 430.4,321.9 431.4,320 432.3,318.3 433.2,316.5 434.2,314.6 435.1,312.8 436.1,311 437,309.4 437.9,308 438.9,306.6 439.8,305.4 440.7,304.4 441.6,303.7 442.5,303.2 443.4,303 444.3,303.3 445.2,304.1 446.1,305.1 447.1,306.3 447.9,307.3 448.8,308 449.8,308.5 450.7,308.8 451.6,308.9 452.5,309 453.5,309 454.4,308.9 455.3,308.7 456.2,308.4 457.2,308.2 458.1,308.2 459,308.5 460,309.4 461,310.6 462,312.1 463,313.6 464,315 464.9,316.2 465.9,317.5 466.9,318.8 467.8,319.9 468.8,320.6 469.7,320.7 470.7,319.8 471.7,318.1 472.7,315.8 473.7,313.5 474.7,311.5 475.5,309.9 476.3,308.2 477.1,306.5 477.9,305 478.9,303.7 480,303 480.8,302.9 481.7,302.9 482.6,303.2 483.6,303.6 484.7,304.1 485.7,304.6 486.7,305.1 487.7,305.5 488.6,305.8 489.4,305.9 490.6,305.6 491.6,305 492.6,304.2 493.5,303.5 494.4,302.9 495.3,302.9 496.3,303.4 497.3,304.2 498.3,305.3 499.3,306.5 500.3,307.7 501.3,308.9 502.2,310.1 503.1,311.5 503.9,312.8 504.9,314.1 506,315.2 507.3,315.9 508.1,316.1 509,316.2 510,316.2 511,316.1 512.1,316 513.2,315.8 514.3,315.7 515.4,315.5 516.4,315.3 517.4,315.1 518.4,315 519.2,314.9 520.5,314.9 521.6,315.1 522.6,315.4 523.6,315.6 524.5,315.7 525.3,315.5 526.2,314.9 527.4,313.4 528.5,311.2 529.5,308.6 530.4,306.1 531.2,303.9 532.1,301.1 532.7,298.6 533.7,295.5 534.5,293.5 535.4,291.2 536.5,288.8 537.6,286.3 538.7,283.9 539.7,281.6 540.7,279.5 541.7,277.5 542.7,275.6 543.7,273.7 544.7,271.7 545.7,269.6 546.7,267.2 547.7,264.6 548.8,262 549.8,259.4 550.8,257.3 551.7,255.7 552.8,254.6 553.8,254.1 554.8,254.1 555.7,254.3 556.7,254.7 557.7,255.3 558.6,256.1 559.6,257.2 560.6,258.4 561.6,259.6 562.6,260.7 563.6,261.9 564.7,263.1 565.7,264.3 566.7,265.5 567.6,266.6 568.7,268.2 569.6,269.7 570.5,271 571.6,271.6 572.5,271.7 573.5,271.6 574.5,271.3 575.5,270.8 576.6,269.9 577.6,268.6 578.6,266.7 579.6,264.3 580.6,261.5 581.5,258.7 582.5,256 583.5,253.7 584.5,251.8 585.5,250.1 586.5,248.6 587.5,247.2 588.5,245.9 589.5,244.7 590.5,243.6 591.6,242.6 592.6,241.7 593.6,240.9 594.6,240.4 595.5,240.1 596.6,240.2 597.6,240.7 598.5,241.6 599.5,242.7 600.5,244.1 601.5,245.8 602.5,247.5 603.5,248.7 604.5,249.6 605.4,250.2 606.4,250.3 607.5,249.7 608.4,248.8 609.3,247.5 610.3,245.9 611.4,244 612.4,242 613.4,239.7 614.4,237.2 615.4,234.5 616.5,231.5 617.5,228.4 618.5,225.1 619.4,221.8 620.5,217.7 621.5,213.3 622.5,208.8 623.5,204.3 624.4,199.9 625.3,195.6 626.1,191.4 627,187.2 627.7,183.1 628.5,179 629.4,173.9 630.2,168.8 631,163.9 631.9,159.5 632.8,155.4 633.7,151.7 634.7,148.3 635.9,145.6 636.7,144.3 637.7,143 638.7,142 639.8,141.1 640.8,140.5 641.8,140.2 642.8,140.2 643.9,140.7 644.9,141.7 645.9,143.1 646.9,144.8 647.9,146.7 648.8,148.6 649.9,151.2 650.9,154.2 651.9,157.4 652.9,160.6 653.8,163.5 654.8,166.8 655.7,169.9 656.6,173 657.5,176 658.4,179.1 659.2,182.2 660.1,185.2 661.2,187.9 662.1,189.5 663,191 664.1,192.3 665.1,193.6 666.2,194.8 667.2,195.9 668.2,197 669.1,198 670.1,199 671.1,199.9 672.1,200.5 673.2,200.9 674.1,201 675.1,200.9 676.1,200.8 677.1,200.5 678.1,200.1 679.2,199.7 680.2,199.3 681.2,198.9 682.2,198.5 683.1,198 684.1,197.5 685,197 686,196.5 687,195.9 688,195.4 689.1,194.9 690,194.5 691,194.1 692.1,193.8 693.1,193.4 694.2,193.1 695.3,192.7 696.3,192.3 697.3,191.9 698.3,191.4 699.1,190.9 700.4,189.9 701.5,188.8 702.5,187.5 703.5,186.3 704.3,185.1 705.1,183.9 706.1,182.1 706.8,180.4 708,177.5 708.8,175.8 709.7,173.6 710.8,171.2 711.9,168.7 713.1,166.2 714.2,163.8 715.2,161.7 716,160 717.2,158 718.2,157.2 719,156.2 720,154 720.8,151.5 721.7,148.4 722.6,144.9 723.5,141.2 724.5,137.4 725.5,133.6 726.4,130.2 727.4,126.6 728.4,122.9 729.4,119.1 730.5,115.6 731.5,112.4 732.5,109.7 733.5,107.5 734.4,105.6 735.4,104.1 736.4,102.8 737.4,101.7 738.4,100.7 739.4,99.8 740.4,99 741.4,98.3 742.4,97.7 743.5,97.2 744.5,96.9 745.5,96.8 746.5,96.9 747.4,97.4 748.5,98.5 749.5,100 750.5,101.9 751.5,104.2 752.4,106.8 753.4,109.7 754.4,113.1 755.4,117 756.4,121.3 757.4,125.6 758.4,129.8 759.4,133.6 760.4,137 761.4,140.3 762.5,143.5 763.5,146.4 764.4,149.1 765.3,151.6 766.4,154.9 767.3,157.6 768.2,159.8 769.3,161.5 770.2,162.2 771.2,162.5 772.2,162.5 773.2,162.4 774.3,162.4 775.3,162.5 776.3,162.9 777.3,163.5 778.3,164.1 779.3,164.6 780.3,164.8 781.3,164.5 782.3,163.6 783.3,162.1 784.2,160.2 785.2,158.4 786.2,156.7 787.3,155.5 788.2,154.9 789.2,154.5 790.2,154.3 791.3,154.2 792.3,154.1 793.3,153.9 794.2,153.5 795.3,152.7 796.3,151.7 797.3,150.6 798.3,149.6 799.3,148.9 800.2,148.6 801.2,149 802.2,150 803.2,151.4 804.2,152.6 805.2,153.5 806.1,153.9 807.1,154 808,154.1 809,154.2 810.1,154.3 811.2,154.5 812.1,154.8 813.1,155.2 814.1,155.6 815.1,156 816.1,156.4 817.1,156.8 818.1,157.2 819.1,157.5 820.2,157.8 821.2,158.1 822.3,158.3 823.3,158.5 824.3,158.6 825.2,158.6 826.1,158.5 827.2,158 828.2,157.2 829.1,156.2 830.1,155.3 831.1,154.5 832.1,154 833.1,153.6 834.1,153.3 835.2,153 836.2,152.7 837.1,152.5 838.1,152.2 839,151.9 839.8,151.7 840.6,151.8 841.4,152.3 842.4,153.5 843.3,155.3 844.3,157.4 845.4,159.9 846.3,161.7 847.3,163.8 848.3,166 849.3,168.3 850.4,170.6 851.4,172.8 852.4,174.9 853.4,177 854.4,179.1 855.4,181.2 856.4,183.4 857.4,185.8 858.4,188.5 859.4,191.5 860.4,194.6 861.3,197.6 862.3,200.4 863.3,202.7 864.3,204.7 865.3,206.4 866.3,207.9 867.3,209.2 868.3,210.1 869.3,210.7 870.3,210.8 871.3,210.5 872.3,209.8 873.3,209 874.3,208.3 875.3,207.7 876.3,207.2 877.3,206.6 878.3,205.9 879.3,205.5 880.3,205.4 881.3,205.7 882.3,206.6 883.3,208.1 884.4,209.9 885.4,211.7 886.4,213.4 887.3,214.7 888.3,215.7 889.3,216.4 890.3,216.9 891.2,217.3 892.2,217.6 893.2,217.7 894.2,217.4 895.3,217.2 896.3,217.1 897.2,217.6 898.2,218.9 899.1,220.8 900.1,223.1 901.2,225.6 902.1,227.6 903.1,229.9 904.2,232.3 905.3,234.7 906.3,236.9 907.2,238.6 908.3,240.3 909.1,241.3 909.9,241.9 910.8,242.6 911.6,243 912.4,243.2 913.2,243.4 914.1,243.8 915,244.7 916,246.2 917,248.1 918.1,250.2 919,252.5 919.9,254.6 921,258.2 922,261.8 922.8,265.1 923.6,267.8 924.3,270.1 924.9,272.2 925.9,275.1 926.6,277.1"/>
</g>
<g shape-rendering="crispEdges">
<rect x="3" y="42" width="1162" height="2" fill="#ff0000"/>
<rect x="3" y="164" width="1162" height="2" fill="#ff0000"/>
<rect x="3" y="267" width="1162" height="2" fill="#00ff00"/>
<rect x="3" y="345" width="1162" height="2" fill="#0000ff"/>
<rect x="3" y="443" width="1162" height="2" fill="#0000ff"/>
<g transform="translate(0.5,0)" fill="none" stroke-width="1">
<path stroke="#32cd32" d="M7 177v22M9 186v100M11 277v37M15 294v22M21 281v41M25 297v24M35 286v37M39 301v16M41 309v11M49 278v17M53 261v19M59 253v46M61 289v21M63 306v17M65 311v16M67 306v23M69 315v38M75 260v20M79 264v13M95 234v63M99 270v16M105 262v25M109 212v29M111 224v18M119 225v32M121 254v28M123 266v24M131 252v55M135 249v11M139 246v13M143 224v25M147 237v18M149 249v16M151 260v15M153 260v34M155 257v46M157 295v9M159 299v17M161 299v17M167 268v64M169 302v33M177 303v33M181 299v35M183 294v80M185 368v14M187 374v18M189 379v25M191 382v29M193 402v27M195 410v20M201 402v46M203 410v28M209 414v15M211 415v16M213 419v21M215 413v34M223 425v12M225 426v26M231 436v14M233 442v10M239 433v41M245 407v19M249 399v33M251 405v28M255 408v13M269 297v18M277 255v13M283 246v13M293 211v26M295 216v17M299 204v46M301 225v13M305 226v14M307 227v12M313 206v16M317 208v12M321 204v25M323 227v39M325 261v42M327 298v14M329 303v12M333 298v43M335 319v43M339 342v9M345 332v41M351 310v21M353 309v52M357 312v30M363 268v47M369 257v62M371 274v32M383 268v30M387 276v18M389 278v27M391 280v20M393 278v48M395 281v61M399 326v22M405 328v25M407 329v33M411 325v24M415 308v25M417 310v34M421 313v25M423 325v14M433 262v28M437 271v15M439 279v22M443 251v56M445 278v75M447 346v21M449 353v20M457 285v22M459 284v13M461 282v15M463 292v28M465 301v31M467 320v37M477 264v27M479 278v40M481 295v32M485 301v16M487 303v14M491 290v30M495 300v25M497 315v17M503 301v55M507 327v16M515 288v15M517 295v13M519 302v13M521 308v23M525 305v30M533 254v12M545 223v23M547 235v17M549 243v26M551 254v40M553 257v37M555 281v20M559 288v12M561 286v28M567 271v15M575 201v47M579 214v26M581 217v23M583 221v13M585 223v21M587 221v54M591 249v27M593 247v19M597 249v43M613 168v31M619 156v19M631 97v14M633 90v39M635 113v48M637 148v17M639 154v13M641 152v17M645 150v45M647 186v29M649 192v31M651 196v16M653 196v19M661 214v20M663 165v69M669 163v55M671 190v34M675 190v30M681 177v45M685 179v21M693 142v51M695 148v44M697 173v21M699 172v22M709 137v35M713 132v31M715 132v23M725 65v23M733 61v45M735 73v30M737 89v32M743 84v69M751 118v21M753 120v37M755 152v64M759 186v16M767 152v28M769 144v34M777 121v25M779 121v35M781 140v26M789 150v28M791 158v31M801 123v29M803 138v43M805 153v23M807 154v23M811 144v27M813 154v27M815 157v35M821 154v13M823 154v13M825 153v31M833 118v23M835 131v14M837 133v15M839 132v42M841 162v25M843 176v34M847 198v19M849 210v49M859 203v17M865 181v42M867 198v19M873 163v46M875 183v38M877 194v20M879 203v23M881 204v26M883 218v30M885 238v32M891 212v15M897 188v31M899 197v49M901 239v23M903 250v19M909 244v26M911 262v27M913 266v21M917 269v10M921 273v21M923 279v32M927 282v19"/>
<path stroke="#ff0000" d="M3 181v23M5 177v13M13 304v30M17 305v15M19 300v15M23 304v18M27 310v18M29 316v16M31 304v23M33 295v41M37 298v19M43 310v12M45 294v25M47 251v54M51 264v35M55 265v18M57 253v33M71 284v64M73 266v26M77 264v23M81 247v29M83 247v26M85 251v18M87 254v15M89 255v18M91 245v21M93 225v28M97 265v18M101 264v27M103 257v20M107 221v62M113 230v11M115 228v15M117 213v32M125 275v13M127 278v11M129 262v34M133 252v46M137 257v14M141 235v29M145 233v17M163 295v12M165 267v36M171 318v21M173 309v20M175 307v17M179 291v36M197 412v19M199 404v15M205 403v27M207 414v12M217 430v21M219 425v12M221 425v12M227 439v29M229 435v21M235 446v9M237 421v35M241 402v64M243 412v12M253 407v19M257 401v14M259 393v26M261 391v21M263 342v59M265 312v35M267 304v19M271 303v15M273 283v29M275 257v46M279 246v18M281 239v28M285 229v28M287 210v26M289 211v17M291 209v12M297 200v20M303 226v20M309 222v16M311 208v23M315 203v17M319 211v7M331 295v15M337 340v23M341 332v17M343 328v13M347 341v34M349 312v42M355 317v14M359 293v41M361 255v45M365 259v40M367 243v21M373 267v24M375 263v24M377 263v20M379 278v24M381 268v35M385 272v17M397 323v14M401 334v15M403 331v12M409 332v28M413 312v45M419 302v37M425 318v16M427 315v12M429 280v44M431 261v26M435 263v18M441 270v35M451 343v26M453 302v56M455 269v52M469 284v70M471 296v27M473 286v29M475 265v26M483 302v25M489 298v22M493 293v33M499 319v13M501 315v17M505 318v26M509 315v14M511 307v13M513 296v17M523 315v16M527 293v37M529 266v36M531 252v26M535 250v14M537 237v36M539 221v29M541 209v28M543 222v22M557 289v14M563 270v28M565 270v27M569 264v14M571 246v29M573 206v47M577 234v9M589 246v20M595 246v21M599 261v37M601 247v31M603 245v17M605 249v13M607 242v19M609 196v56M611 166v45M615 160v32M617 153v21M621 164v17M623 135v38M625 107v36M627 101v21M629 90v17M643 156v13M655 192v16M657 190v39M659 211v21M665 164v35M667 163v28M673 189v43M677 188v36M679 188v33M683 185v41M687 188v15M689 187v13M691 164v34M701 170v18M703 165v20M705 136v44M707 128v43M711 129v32M717 121v34M719 116v41M721 83v46M723 63v29M727 74v23M729 68v26M731 47v41M739 100v16M741 92v40M745 119v27M747 123v18M749 120v24M757 189v25M761 180v30M763 166v22M765 165v17M771 150v18M773 140v19M775 131v22M783 149v17M785 149v17M787 150v15M793 153v28M795 139v21M797 137v21M799 128v24M809 148v24M817 162v15M819 156v16M827 119v48M829 120v25M831 114v27M845 198v15M851 219v37M853 205v25M855 203v17M857 196v22M861 204v19M863 174v30M869 198v21M871 176v34M887 244v26M889 216v46M893 201v21M895 198v13M905 258v12M907 258v14M915 264v23M919 275v7M925 282v31"/>
<path stroke="#000" d="M247 401v9"/>
</g>
</g>
<polygon fill="#c0c0c0" shape-rendering="crispEdges" points="2.7,533 2.7,530.5 6.6,526 9.3,533 13.3,547.7 21.2,556.2 27.9,558.9 34.5,557 43.8,551.7 50.5,543.7 55.8,537.1 63.7,541.1 69,544.5 73,538.4 77,533.1 85,527.8 92.9,523.8 98.2,527.8 106.2,526.5 115.5,522 120.8,526.5 126.1,533.1 131.4,536.6 136.7,533.1 144.7,528.6 150,531.3 154,534.5 159.3,539.8 167.3,545.1 175.3,547.2 183.2,550.4 189.9,559.7 196.5,565 203.1,566.3 212.4,563.7 223,558.4 233.7,554.4 241.6,549.1 248.3,539.8 254.9,535.8 260.2,533.1 265.5,518.5 272.2,505.2 278.8,496 285.4,492 292.1,491.2 298.7,493.3 305.4,501.3 312,506.6 322.6,513.2 326.6,526.5 329.2,533.1 333.2,543.7 338.5,550.4 346.5,554.4 353.1,549.9 359.7,545.1 365.1,533.1 375.7,529.1 385,531.3 392.9,533.1 399.6,541.1 407.5,544.5 416.8,542.4 424.8,538.4 430.1,533.1 435.4,527.8 442.1,527.3 445.5,533.1 450,540.3 455.3,537.1 458,533.1 460.6,531.3 466,533.1 472.6,531.3 475.3,529.1 483.2,531.3 493.8,531.3 497.8,534.5 505.8,538.4 512.4,535.8 520.4,533.9 527,531.8 532.3,523.8 539,516.7 546.9,515.3 552.3,522.5 558.9,531.3 568.2,531.3 573.5,525.2 584.1,519.8 592.1,526.5 597.4,531.8 606.7,531.3 608.5,529.1 614.1,517.9 622.6,509.4 631,499.5 636.7,505.2 643.7,516.4 649.4,527.7 655,533.1 660.7,539 666.3,534.8 679,537 690.3,533.4 698.8,530.6 708.6,526.3 718.5,520.7 724.2,512.2 731.2,508 738.3,515 745.3,522.1 752.4,530.6 755.2,537.6 762.2,545.5 769.3,543.3 776.4,536.2 786.2,537.6 797.5,534.2 808.8,534.8 817.3,538.2 825.7,534.8 830,530.6 834.2,528.6 838.4,531.4 842.7,537.6 848.3,547.5 854,549.5 862.4,547.5 869.5,543.3 875.1,540.4 882.2,543.8 886.4,549.5 892,544.7 896.3,539.9 901.9,543.3 907.6,547.5 913.2,551.2 921.7,551.7 927.3,553.7 927.3,533"/>
<polyline fill="none" stroke="#ff0000" stroke-width="1" shape-rendering="crispEdges" points="2.7,531.3 3.3,530.8 4.2,530.1 5.2,529.4 6.3,528.8 7.4,528.6 8.3,528.7 9.3,529 10.2,529.4 11.2,530 12.3,530.8 13.3,531.8 14.2,532.9 15.1,534.3 16.1,535.9 17,537.5 18,539.2 18.9,540.8 19.9,542.4 20.9,543.9 21.8,545.5 22.8,547.1 23.7,548.6 24.7,550.1 25.6,551.4 26.6,552.5 27.5,553.4 28.5,554.1 29.4,554.8 30.4,555.2 31.3,555.6 32.3,555.9 33.2,556.2 34.1,556.4 35,556.4 36,556.4 36.9,556.3 37.8,556.2 38.8,555.9 39.8,555.7 40.7,555.4 41.7,555.2 42.7,554.8 43.7,554.5 44.7,554 45.8,553.6 46.8,553.1 47.8,552.5 48.8,551.9 49.8,551.2 50.9,550.4 51.9,549.6 52.9,548.8 53.9,547.9 54.9,547.1 55.8,546.4 56.8,545.6 57.8,544.7 58.7,543.9 59.6,543.1 60.6,542.3 61.5,541.7 62.4,541.1 63.3,540.6 64.3,540.2 65.2,539.9 66.2,539.7 67.1,539.5 68.1,539.3 69,539.2 69.9,539.2 70.9,539.3 71.8,539.5 72.7,539.7 73.7,539.8 74.7,539.9 75.7,539.8 76.6,539.6 77.6,539.3 78.6,539 79.6,538.6 80.6,538.2 81.6,537.7 82.6,537.2 83.6,536.6 84.6,536 85.6,535.2 86.7,534.4 87.7,533.5 88.7,532.7 89.7,531.9 90.7,531.1 91.6,530.5 92.6,529.9 93.5,529.4 94.5,529 95.3,528.6 96.3,528.3 97.2,528 98.2,527.8 99.1,527.6 100.1,527.5 101.1,527.5 102.1,527.4 103.1,527.4 104.2,527.4 105.2,527.4 106.2,527.3 107.2,527.2 108.2,527.1 109.2,527 110.2,526.9 111.2,526.8 112.2,526.7 113.2,526.6 114.2,526.5 115.2,526.3 116.2,526.1 117.3,525.9 118.3,525.7 119.3,525.5 120.3,525.4 121.2,525.2 122.1,525.2 123.1,525.2 124.1,525.3 125,525.5 125.8,525.8 126.6,526.1 127.5,526.5 128.4,527 129.2,527.7 130,528.4 130.8,529.1 131.8,529.8 132.8,530.5 133.7,531 134.6,531.5 135.6,532 136.6,532.5 137.6,532.9 138.7,533.3 139.7,533.5 140.7,533.7 141.7,533.7 142.7,533.5 143.6,533.3 144.6,533 145.6,532.6 146.6,532.3 147.6,532 148.7,531.8 149.6,531.7 150.5,531.6 151.5,531.5 152.5,531.5 153.4,531.4 154.4,531.4 155.4,531.4 156.3,531.5 157.2,531.6 158,531.8 159.1,532.2 160,532.6 160.9,533.2 161.8,533.8 162.7,534.4 163.6,535.1 164.6,535.8 165.5,536.4 166.5,537.1 167.5,537.7 168.5,538.4 169.5,539.2 170.6,539.8 171.6,540.5 172.6,541.1 173.6,541.7 174.6,542.2 175.6,542.7 176.6,543.2 177.6,543.7 178.6,544.1 179.6,544.6 180.6,545.1 181.6,545.6 182.6,546 183.6,546.5 184.6,546.9 185.6,547.4 186.6,547.9 187.6,548.5 188.5,549.1 189.5,549.9 190.5,550.8 191.5,551.8 192.4,552.8 193.3,553.8 194.3,554.8 195.2,555.7 196.1,556.6 197.1,557.5 198,558.4 198.9,559.3 199.8,560.1 200.8,560.8 201.8,561.5 202.7,562 203.7,562.5 204.7,562.9 205.7,563.2 206.7,563.6 207.8,563.8 208.8,564 209.8,564.2 210.8,564.3 211.8,564.4 212.8,564.4 213.8,564.3 214.7,564.2 215.7,564.1 216.7,563.9 217.7,563.7 218.7,563.4 219.7,563.1 220.7,562.7 221.7,562.3 222.7,561.8 223.7,561.4 224.7,560.9 225.7,560.5 226.7,560.1 227.7,559.6 228.7,559.2 229.7,558.7 230.7,558.3 231.7,557.8 232.7,557.4 233.7,557 234.7,556.7 235.7,556.4 236.7,556.1 237.6,555.9 238.6,555.6 239.6,555.3 240.6,554.9 241.6,554.4 242.6,553.8 243.6,553 244.6,552.2 245.6,551.3 246.6,550.4 247.6,549.5 248.6,548.6 249.6,547.7 250.5,547 251.4,546.3 252.3,545.5 253.2,544.8 254.1,544.1 254.9,543.4 255.8,542.7 256.7,541.9 257.6,541.1 258.6,540.2 259.6,539.3 260.6,538.4 261.6,537.4 262.5,536.4 263.5,535.4 264.5,534.3 265.5,533.1 266.5,531.8 267.5,530.4 268.5,529 269.5,527.5 270.5,525.9 271.5,524.4 272.5,522.8 273.5,521.2 274.5,519.6 275.5,517.9 276.5,516.1 277.5,514.4 278.5,512.7 279.5,511 280.5,509.4 281.5,507.9 282.5,506.5 283.5,505.2 284.5,503.9 285.5,502.7 286.5,501.6 287.5,500.5 288.5,499.5 289.4,498.6 290.4,497.7 291.4,496.9 292.4,496.1 293.4,495.5 294.3,495 295.2,494.5 296.1,494.1 297,493.7 297.9,493.4 298.8,493.2 299.6,493.1 300.5,493.1 301.4,493.3 302.3,493.6 303.2,494 304.1,494.5 305,495.2 306,495.8 307,496.6 308,497.3 308.9,498 309.9,498.8 310.9,499.6 311.9,500.5 312.9,501.4 313.9,502.3 314.9,503.1 315.9,503.9 316.9,504.6 317.9,505.2 319,505.8 320,506.4 321,507 322,507.6 323,508.4 323.9,509.2 324.9,510.3 325.9,511.4 326.8,512.6 327.7,513.9 328.6,515.3 329.6,516.9 330.5,518.5 331.5,520.3 332.4,522.4 333.4,524.6 334.3,526.8 335.3,529.1 336.2,531.2 337.2,533.1 338.1,534.9 339.1,536.5 340,538.1 341,539.6 341.9,541.1 342.9,542.4 343.8,543.7 344.8,544.9 345.7,546.1 346.7,547.1 347.7,548.1 348.7,549 349.6,549.8 350.5,550.4 351.4,551 352.3,551.4 353.2,551.7 354,551.8 354.9,551.8 355.8,551.7 356.7,551.5 357.6,551.2 358.5,550.9 359.5,550.4 360.5,549.9 361.4,549.2 362.4,548.5 363.3,547.7 364.2,546.7 365.2,545.7 366.1,544.5 367,543.4 368,542.2 369,541.1 369.9,540.1 370.9,539 371.9,537.9 372.9,536.8 373.9,535.7 375,534.7 376,533.8 377,533.1 378,532.5 379,532 380,531.6 381,531.3 382,531 383,530.8 384,530.7 385,530.5 386,530.4 387,530.3 388,530.2 388.9,530.2 389.9,530.2 390.9,530.3 391.9,530.5 392.9,530.7 393.9,531 394.9,531.4 395.9,531.8 396.9,532.3 397.9,532.8 398.9,533.4 399.9,533.9 400.9,534.5 401.9,535.1 402.9,535.8 403.9,536.5 404.9,537.2 405.9,537.9 406.9,538.6 407.9,539.2 408.9,539.8 409.9,540.3 410.9,540.8 411.9,541.3 412.8,541.7 413.8,542.1 414.8,542.5 415.8,542.7 416.8,542.9 417.8,543 418.8,543 419.8,543 420.8,542.8 421.8,542.7 422.8,542.5 423.8,542.2 424.8,541.9 425.8,541.5 426.8,541.1 427.9,540.7 428.9,540.1 429.9,539.6 430.9,539 431.9,538.5 432.8,537.9 433.8,537.2 434.8,536.5 435.8,535.8 436.7,535 437.6,534.3 438.5,533.7 439.4,533.1 440.3,532.5 441.2,531.9 442,531.5 442.9,531 443.8,530.7 444.7,530.5 445.6,530.4 446.6,530.4 447.5,530.5 448.6,530.6 449.5,530.8 450.5,531 451.4,531.3 452.3,531.7 453.2,532.3 454.1,532.9 454.9,533.5 455.8,534 456.7,534.5 457.6,534.8 458.4,535.2 459.3,535.5 460.2,535.7 461.2,535.9 462.2,536 463.3,536 464.1,535.9 465,535.8 465.9,535.6 466.9,535.4 467.9,535.1 468.8,534.9 469.8,534.6 470.8,534.3 471.7,534.1 472.6,533.9 473.7,533.7 474.7,533.5 475.7,533.2 476.7,533 477.7,532.8 478.6,532.6 479.6,532.5 480.6,532.3 481.6,532.1 482.6,532 483.6,531.8 484.6,531.7 485.5,531.5 486.5,531.4 487.5,531.3 488.5,531.3 489.5,531.3 490.5,531.3 491.5,531.3 492.5,531.3 493.5,531.4 494.5,531.5 495.5,531.6 496.5,531.8 497.5,532 498.5,532.3 499.4,532.7 500.4,533.1 501.4,533.5 502.4,533.8 503.4,534.2 504.5,534.5 505.4,534.7 506.3,535 507.2,535.2 508.1,535.4 509.1,535.6 510,535.8 511,536 511.9,536.2 512.9,536.2 513.8,536.3 514.7,536.3 515.7,536.3 516.6,536.2 517.5,536.1 518.5,536 519.4,535.8 520.3,535.6 521.2,535.4 522.1,535.2 523,535 524.1,534.7 525.1,534.4 526.1,534 527.1,533.6 528.1,533.2 529,532.8 530,532.3 531,531.8 532,531.3 533,530.7 534,530.1 535,529.4 536,528.7 537,528 538,527.3 539,526.5 540,525.6 541,524.6 542,523.6 543,522.5 544,521.5 545,520.5 546,519.7 546.9,519 547.9,518.4 548.9,517.9 549.9,517.6 550.9,517.4 551.8,517.2 552.7,517.2 553.6,517.2 554.5,517.3 555.4,517.6 556.3,518 557.1,518.5 558,519.1 558.9,519.8 559.8,520.6 560.7,521.5 561.6,522.5 562.6,523.6 563.6,524.7 564.5,525.6 565.5,526.5 566.5,527.3 567.4,528 568.4,528.7 569.3,529.3 570.3,529.8 571.2,530.2 572.2,530.5 573.1,530.6 574.1,530.6 575,530.5 575.9,530.3 576.8,529.9 577.8,529.6 578.8,529.1 579.8,528.6 580.8,528 581.8,527.2 582.9,526.4 583.9,525.7 585,524.9 585.9,524.3 586.8,523.8 587.8,523.3 588.7,523 589.5,522.7 590.3,522.5 591.2,522.5 592.1,522.5 593,522.6 593.9,522.7 594.9,523 595.9,523.3 596.9,523.6 597.8,524 598.7,524.4 599.7,525 600.6,525.7 601.5,526.4 602.3,527.2 603.2,527.9 604,528.5 604.9,529.2 605.7,529.8 606.6,530.3 607.5,530.6 608.5,530.6 609.4,530.4 610.3,530 611.2,529.6 612.3,529 613.3,528.2 614.4,527.3 615.5,526.3 616.4,525.3 617.3,524.2 618.2,523 619.1,521.7 620,520.3 621,518.9 622,517.5 623,516.2 624,515 624.9,513.9 625.9,512.8 626.9,511.7 627.9,510.5 629,509.5 630,508.4 631,507.4 632,506.6 633,505.8 633.9,505.2 634.9,504.7 635.9,504.3 636.9,504 637.9,503.8 638.8,503.7 639.8,503.7 640.6,503.8 641.5,504 642.3,504.3 643.4,504.9 644.3,505.6 645.1,506.6 646,507.8 646.9,509.2 648,510.8 648.8,512.1 649.7,513.5 650.6,515.1 651.5,516.8 652.5,518.5 653.5,520.3 654.5,521.9 655.4,523.5 656.4,524.9 657.3,526.2 658.3,527.4 659.2,528.6 660.2,529.8 661.1,530.8 662.1,531.8 663,532.7 664,533.5 664.9,534.2 665.8,534.8 666.7,535.2 667.5,535.5 668.4,535.7 669.2,535.8 670.2,536 671.1,536 672.2,536.1 673.4,536.2 674.2,536.3 675,536.3 675.9,536.4 676.9,536.4 677.8,536.4 678.8,536.4 679.9,536.4 680.9,536.4 681.9,536.4 682.9,536.4 683.9,536.4 684.9,536.4 685.8,536.3 686.7,536.3 687.5,536.2 688.7,536.1 689.7,536 690.8,535.8 691.7,535.6 692.7,535.5 693.6,535.3 694.5,535 695.4,534.8 696.3,534.5 697.3,534.2 698.3,533.9 699.2,533.5 700.1,533.2 701.1,532.8 702,532.4 702.9,532 703.9,531.5 704.9,531.1 706,530.5 707.2,530 708,529.6 708.9,529.2 709.8,528.8 710.8,528.3 711.8,527.9 712.8,527.4 713.8,526.9 714.8,526.4 715.9,525.9 716.9,525.4 717.8,524.9 718.8,524.4 719.7,523.9 720.5,523.4 721.3,522.9 722.5,522 723.6,521.1 724.6,520.2 725.5,519.2 726.4,518.3 727.3,517.3 728.1,516.5 728.9,515.7 729.8,515 730.8,514.3 731.7,513.7 732.6,513.2 733.5,512.7 734.4,512.3 735.3,511.9 736.1,511.6 736.9,511.4 737.9,511.1 738.8,510.9 739.6,510.8 740.5,510.9 741.4,511.2 742.5,511.7 743.3,512.2 744.2,512.9 745.2,513.6 746.2,514.5 747.2,515.4 748.2,516.3 749.2,517.3 750.1,518.3 751,519.3 752.1,520.6 753.1,521.9 754,523.3 755,524.7 755.9,526.2 756.9,527.6 758,529.1 758.9,530.3 759.8,531.6 760.8,532.9 761.8,534.2 762.7,535.6 763.7,536.8 764.7,538 765.6,539 766.5,539.9 767.6,540.8 768.6,541.6 769.5,542.3 770.5,542.8 771.4,543.1 772.4,543.3 773.5,543.3 774.4,543.2 775.3,542.8 776.2,542.4 777.1,541.8 778,541.2 779,540.6 780,540 781,539.4 782,539 782.9,538.7 783.9,538.4 784.8,538.1 785.8,537.8 786.8,537.5 787.8,537.3 788.8,537.1 789.8,536.9 790.8,536.7 791.9,536.5 792.8,536.4 793.7,536.3 794.7,536.2 795.7,536.1 796.7,536 797.6,535.9 798.6,535.9 799.6,535.8 800.5,535.8 801.5,535.7 802.4,535.7 803.2,535.6 804.3,535.5 805.3,535.4 806.3,535.2 807.2,535.1 808.1,535 809,534.9 809.9,534.8 810.7,534.8 811.6,534.8 812.5,534.9 813.4,535 814.2,535.2 815.1,535.4 815.9,535.7 816.8,535.9 817.7,536.1 818.7,536.2 819.6,536.3 820.5,536.3 821.6,536.4 822.6,536.4 823.7,536.5 824.7,536.5 825.8,536.4 826.8,536.4 827.7,536.3 828.6,536.2 829.8,535.9 830.8,535.5 831.8,535.1 832.7,534.6 833.7,534.1 834.6,533.7 835.6,533.4 836.5,533.2 837.4,533 838.3,532.8 839.2,532.6 840.1,532.5 841,532.4 841.9,532.4 842.7,532.5 843.7,532.7 844.6,533 845.5,533.4 846.4,534 847.3,534.6 848.3,535.4 849.1,536.1 850,537 850.9,537.9 851.8,538.9 852.8,540 853.7,540.9 854.6,541.9 855.4,542.7 856.4,543.7 857.3,544.7 858.2,545.6 859.1,546.3 860,547 861,547.5 861.8,547.7 862.7,547.9 863.6,548 864.5,548 865.4,547.9 866.3,547.8 867.2,547.7 868.1,547.5 869.1,547.2 870.1,546.9 871,546.5 872,546 873,545.5 874,545.1 875.1,544.7 876,544.4 876.9,544.1 877.8,543.7 878.7,543.4 879.6,543.1 880.6,542.8 881.6,542.6 882.6,542.5 883.6,542.4 884.5,542.5 885.5,542.6 886.5,542.8 887.5,543.1 888.6,543.4 889.6,543.8 890.6,544.1 891.6,544.4 892.6,544.6 893.5,544.7 894.5,544.8 895.5,544.8 896.4,544.7 897.3,544.6 898.2,544.5 899.1,544.4 900.1,544.2 901,544.2 901.9,544.1 902.8,544 903.8,544 904.7,543.9 905.7,543.8 906.6,543.7 907.6,543.7 908.5,543.8 909.5,543.9 910.4,544.1 911.3,544.4 912.3,544.9 913.2,545.4 914.1,546 915.1,546.6 916,547.3 916.9,547.9 917.9,548.4 918.8,548.9 919.8,549.3 920.8,549.7 921.9,550.1 923,550.4 924.1,550.8 925.1,551 926,551.3 926.7,551.5 927.3,551.7"/>
<g shape-rendering="crispEdges" stroke="#c0c0c0" stroke-width="1" stroke-dasharray="3,3">
<line x1="4" y1="599.5" x2="1165" y2="599.5"/><line x1="4" y1="634.5" x2="1165" y2="634.5"/>
</g>
<polyline fill="none" stroke="#1e90ff" stroke-width="1" shape-rendering="crispEdges" points="3.2,609.8 5.8,607.7 8,620.5 10.1,633.7 14.6,633.7 18.6,631.1 21.2,632.4 24.4,628.9 27.9,632.4 33.2,624.4 35.8,627.1 38.5,625.2 42,626.6 46.5,620.5 49.1,617.8 51.8,612 54.4,613.8 57.1,612 59.7,619.1 62.4,623.1 65.1,624.4 69,629.7 71.7,613.8 74.3,612 77,613 79.7,612 85,611.2 90.3,609.8 92.9,607.2 95.6,617.3 100.9,617.3 103.6,615.1 105.4,618.3 107.5,607.7 111.5,609.3 116.8,608.5 119.5,617.3 122.1,621.8 127.5,621.8 130.9,623.1 132.8,615.1 135.4,613.8 139.4,612 144.7,609.8 148.7,616.5 152.7,620.5 156.7,627.1 162,627.9 164.6,617.3 166.8,625.8 169.9,629.7 175.3,625.8 179.2,619.1 183.2,632.4 187.2,635.1 191.2,637.7 195.2,639.6 199.2,633.7 201.3,636.9 205.8,631.6 209.8,633.7 215.1,635.9 219.1,631.6 223,630.5 225.7,633.7 229.7,629.7 233.7,631.6 237.7,627.1 239.5,631.6 241.6,617.8 245.6,613.8 250.9,613.8 254.9,616.5 257.6,612.5 261.6,609.3 262.9,600.5 266.9,594.4 270.8,593.9 274.8,589.1 278.8,589.9 284.1,589.1 289.4,587.3 293.4,589.1 296.1,588.1 298.7,596.6 301.4,600.5 304,600.5 307.4,602.4 310.6,597.9 314.6,596 317.3,599.2 319.1,600.5 321.8,611.2 323.9,623.1 326.6,629.7 329.2,631.6 331.3,627.1 333.2,633.7 335.3,636.9 337.2,632.4 341.2,630.5 343,627.9 345.7,632.4 347.8,627.1 349.9,619.9 353.1,621 357.1,621 359.7,612.5 361.6,608.5 363.2,613.8 365.1,607.7 367.7,609.3 369.6,618.3 373,613.8 375.7,610.4 379.7,617.8 382.3,613.8 386.3,614.6 390.3,618.3 392.9,617.8 395.6,625.8 398.2,624.4 400.4,626.3 403.6,624.4 407.5,626.3 411,624.4 413.6,616.5 416.8,620.5 420,619.1 423.5,619.9 427.5,616.5 429.6,609.8 431.4,603.2 433.3,608.5 436,607.2 439.4,612.5 442.1,611.2 444.7,623.1 447.4,628.4 450,629.7 452.7,621.8 455.3,613.8 458.8,610.4 462,613.8 464.6,620.5 467.3,623.1 469.9,613.8 472.6,612.5 475.3,609.8 478.4,615.1 481.9,619.1 485.9,616.5 489.1,616.5 492.5,615.1 496.5,621.8 500.5,619.1 504.5,621.8 507.6,621.8 511.1,615.1 515.1,612 519.1,615.1 521.7,621 524.4,618.3 526.2,617.8 528.9,607.2 531,602.4 533.1,604.5 536.3,601.3 540.3,597.9 543.8,598.7 546.9,605.8 550.9,613.8 554.9,621.8 561.6,621.8 564.2,616.5 568.2,613.8 571.4,604.5 573.5,597.9 575.6,608.5 578.8,605.1 582,607.2 585.4,609.3 588.1,615.7 592.1,617.3 595.3,615.7 597.4,623.6 602.8,615.7 606.2,615.1 609.9,605.3 611.9,599.6 614.1,603.3 616.4,599.6 619.2,603.3 622,601.6 625.4,596.8 628.8,594.5 632.4,598.2 635.3,609.5 639.5,611.8 643.7,613.7 646.6,620.8 650.8,624.2 655,620.2 657.8,625 660.7,624.2 662.6,615.1 665.5,612.9 669.1,616.6 671.1,624.2 673.4,618.5 676.7,618 679.6,616.6 681.8,621.4 684.7,616.6 688,613.7 690.9,610.9 694.5,613.7 698.8,615.1 703,610.9 707.2,606.1 709.5,608.1 712.9,605.3 717.1,605.3 719.9,598.2 722.7,594 725.6,598.8 729.8,596.8 732.6,602.4 734.9,610.9 738.3,610.9 741.1,609.5 743.3,620.8 746.2,618 749,615.1 752.4,620.8 755.2,631.5 758,627.8 761.4,623.6 765.1,621.4 769.3,619.4 773.5,615.1 777.2,611.8 780.6,618 783.4,621.4 786.2,618 789.6,622.2 793.3,616.6 797.5,612.3 799.8,610.9 803.2,616.6 806.5,622.2 809.4,616.6 812.2,621.4 815.9,622.2 820.1,616.6 824.3,618.5 828,609.5 830.8,607.2 834.2,612.3 837.6,616.6 841.3,624.2 844.1,630.7 846.9,629.3 849.2,636.3 851.7,627.8 855.4,623.6 858.2,623 861,624.2 863.8,618.5 866.6,623 869.5,618.5 872.3,615.1 876.5,620.8 879.9,623 883.6,630.7 885.6,633.5 889.2,620.2 892,616.6 894.9,614.6 897.7,616.6 899.7,624.2 903.3,627.8 907.6,627.8 911.8,631.5 915.5,627.8 918.8,628.7 923.1,633.5 925.9,629.3"/>
<g shape-rendering="crispEdges" fill="#000">
<rect x="2" y="24" width="1" height="637"/>
<rect x="1165" y="24" width="1" height="637"/>
<rect x="2" y="24" width="1164" height="1"/>
<rect x="2" y="484" width="1164" height="1"/>
<rect x="2" y="486" width="1164" height="1"/>
<rect x="2" y="570" width="1164" height="1"/>
<rect x="2" y="572" width="1164" height="1"/>
<rect x="2" y="660" width="1164" height="1"/>
<rect x="0" y="485" width="1165" height="1" fill="#fff"/>
<rect x="0" y="571" width="1165" height="1" fill="#fff"/>
<rect x="1166" y="52" width="3" height="1"/>
<rect x="1166" y="85" width="3" height="1"/>
<rect x="1166" y="118" width="3" height="1"/>
<rect x="1166" y="151" width="3" height="1"/>
<rect x="1166" y="184" width="3" height="1"/>
<rect x="1166" y="217" width="3" height="1"/>
<rect x="1166" y="250" width="3" height="1"/>
<rect x="1166" y="283" width="3" height="1"/>
<rect x="1166" y="316" width="3" height="1"/>
<rect x="1166" y="349" width="3" height="1"/>
<rect x="1166" y="382" width="3" height="1"/>
<rect x="1166" y="415" width="3" height="1"/>
<rect x="1166" y="448" width="3" height="1"/>
<rect x="1166" y="481" width="3" height="1"/>
<rect x="1166" y="487" width="2" height="1"/>
<rect x="1166" y="533" width="2" height="1"/>
<rect x="1166" y="573" width="2" height="1"/>
<rect x="1166" y="599" width="2" height="1"/>
<rect x="1166" y="634" width="2" height="1"/>
<rect x="3" y="661" width="1" height="3"/>
<rect x="67" y="661" width="1" height="3"/>
<rect x="131" y="661" width="1" height="3"/>
<rect x="195" y="661" width="1" height="3"/>
<rect x="259" y="661" width="1" height="3"/>
<rect x="323" y="661" width="1" height="3"/>
<rect x="387" y="661" width="1" height="3"/>
<rect x="451" y="661" width="1" height="3"/>
<rect x="515" y="661" width="1" height="3"/>
<rect x="579" y="661" width="1" height="3"/>
<rect x="643" y="661" width="1" height="3"/>
<rect x="707" y="661" width="1" height="3"/>
<rect x="771" y="661" width="1" height="3"/>
<rect x="835" y="661" width="1" height="3"/>
<rect x="899" y="661" width="1" height="3"/>
</g>
<g shape-rendering="crispEdges">
<rect x="2" y="265" width="6" height="6" fill="#00ff00"/><rect x="4" y="267" width="2" height="2" fill="#fff"/>
<rect x="2" y="343" width="6" height="6" fill="#0000ff"/><rect x="4" y="345" width="2" height="2" fill="#fff"/>
<rect x="1159" y="265" width="6" height="6" fill="#00ff00"/><rect x="1161" y="267" width="2" height="2" fill="#fff"/>
<rect x="1159" y="343" width="6" height="6" fill="#0000ff"/><rect x="1161" y="345" width="2" height="2" fill="#fff"/>
</g>
</svg>
<div class="pl" style="top:48px">0.93630</div>
<div class="pl" style="top:81px">0.93360</div>
<div class="pl" style="top:114px">0.93085</div>
<div class="pl" style="top:147px">0.92815</div>
<div class="pl" style="top:180px">0.92545</div>
<div class="pl" style="top:213px">0.92270</div>
<div class="pl" style="top:246px">0.92000</div>
<div class="pl" style="top:279px">0.91730</div>
<div class="pl" style="top:312px">0.91455</div>
<div class="pl" style="top:345px">0.91185</div>
<div class="pl" style="top:378px">0.90915</div>
<div class="pl" style="top:411px">0.90640</div>
<div class="pl" style="top:444px">0.90370</div>
<div class="pl" style="top:477px">0.90100</div>
<div class="pl" style="top:489px;left:1169px">0.00431</div>
<div class="pl" style="top:529px;left:1169px">0.00</div>
<div class="pl" style="top:559px;left:1169px">-0.00340</div>
<div class="pl" style="top:575px;left:1169px">100</div>
<div class="pl" style="top:595px;left:1169px">70</div>
<div class="pl" style="top:630px;left:1169px">30</div>
<div class="pl" style="top:649px;left:1169px">0</div>
<div class="tag" style="top:37px;background:#ff0000"><span>0.93702</span></div>
<div class="tag" style="top:159px;background:#ff0000"><span>0.92699</span></div>
<div class="tag" style="top:262px;background:#00ff00"><span>0.91855</span></div>
<div class="tag" style="top:294px;background:#000"><span>0.91602</span></div>
<div class="tag" style="top:340px;background:#0000ff"><span>0.91208</span></div>
<div class="tag" style="top:438px;background:#0000ff"><span>0.90405</span></div>
<svg class="abs" style="left:6px;top:31px" width="8" height="5"><path d="M0 4.5L3.5 0.5L7 4.5z" fill="#000"/></svg>
<div class="abs" style="left:18.5px;top:28px;font-size:10px;line-height:10px;color:#000;letter-spacing:-0.33px;transform:rotate(0.03deg)">USDCHF,H4</div>
<div class="abs" style="left:79px;top:28px;font-size:10px;line-height:10px;color:#000;letter-spacing:-0.4px;transform:rotate(0.03deg)">0.91647 0.91741 0.91597 0.91602</div>
<div class="abs" style="left:7px;top:491px;font-size:10px;line-height:10px;color:#000;letter-spacing:-0.34px;transform:rotate(0.03deg)">MACD(12,26,9) -0.001818 -0.001675</div>
<div class="abs" style="left:7px;top:577px;font-size:10px;line-height:10px;color:#000;letter-spacing:-0.36px;transform:rotate(0.03deg)">RSI(14) 34.4723</div>
<div class="tl" style="left:2px">8 Jul 2021</div>
<div class="tl" style="left:66px">15 Jul 10:00</div>
<div class="tl" style="left:130px">22 Jul 18:00</div>
<div class="tl" style="left:194px">30 Jul 00:00</div>
<div class="tl" style="left:258px">6 Aug 10:00</div>
<div class="tl" style="left:322px">13 Aug 18:00</div>
<div class="tl" style="left:386px">21 Aug 00:00</div>
<div class="tl" style="left:450px">30 Aug 11:00</div>
<div class="tl" style="left:514px">6 Sep 19:00</div>
<div class="tl" style="left:578px">14 Sep 00:00</div>
<div class="tl" style="left:642px">21 Sep 10:00</div>
<div class="tl" style="left:706px">28 Sep 18:00</div>
<div class="tl" style="left:770px">6 Oct 00:00</div>
<div class="tl" style="left:834px">13 Oct 10:00</div>
<div class="tl" style="left:898px">20 Oct 18:00</div>
<div class="abs" style="left:4px;top:42px;width:223px;height:60px;background:#fff"></div>
<div class="abs" style="left:3px;top:42px;width:1px;height:1px;background:#fff"></div>
<div class="abs" style="left:6px;top:44px;width:52px;height:25px;background:linear-gradient(#ff5858,#de2828);border:1px solid #b80808;border-bottom:0;box-sizing:border-box"></div>
<div class="abs" style="left:173px;top:44px;width:52px;height:25px;background:linear-gradient(#ff5858,#de2828);border:1px solid #b80808;border-bottom:0;box-sizing:border-box"></div>
<div class="abs" style="left:6px;top:68px;width:109px;height:33px;background:linear-gradient(#e23030,#b00000)"></div>
<div class="abs" style="left:117px;top:68px;width:108px;height:33px;background:linear-gradient(#e23030,#b00000)"></div>
<div class="abs" style="left:58px;top:68px;width:57px;height:1px;background:#b80808"></div>
<div class="abs" style="left:117px;top:68px;width:56px;height:1px;background:#b80808"></div>
<div class="abs" style="left:6px;top:68px;width:1px;height:33px;background:#b80808"></div>
<div class="abs" style="left:224px;top:68px;width:1px;height:33px;background:#b80808"></div>
<div class="abs" style="left:10px;top:67px;width:44px;height:1px;background:#8e0000"></div>
<div class="abs" style="left:177px;top:67px;width:44px;height:1px;background:#8e0000"></div>
<div class="abs" style="left:10px;top:68px;width:44px;height:1px;background:#ff8c8c"></div>
<div class="abs" style="left:177px;top:68px;width:44px;height:1px;background:#ff8c8c"></div>
<div class="abs" style="left:18px;top:49px;font-size:12px;line-height:14px;color:#ffe8e8;transform:scaleX(0.88);transform-origin:0 0">SELL</div>
<div class="abs" style="left:186px;top:49px;font-size:12px;line-height:14px;color:#ffe8e8">BUY</div>
<div class="abs" style="left:60px;top:44px;width:111px;height:22px;box-sizing:border-box;border:1px solid #aeb3b9;background:#fff"></div>
<div class="abs" style="left:62px;top:46px;width:19px;height:18px;background:linear-gradient(#e8e8e8,#cfcfcf);"></div>
<div class="abs" style="left:150px;top:46px;width:19px;height:18px;background:linear-gradient(#e8e8e8,#cfcfcf);"></div>
<div class="abs" style="left:81px;top:45px;width:1px;height:20px;background:#aeb3b9"></div>
<div class="abs" style="left:149px;top:45px;width:1px;height:20px;background:#aeb3b9"></div>
<svg class="abs" style="left:67px;top:53px" width="8" height="5"><path d="M1 0h6L4 3.5z" fill="#5468b8"/></svg>
<svg class="abs" style="left:155.5px;top:53px" width="8" height="5"><path d="M1 3.5h6L4 0z" fill="#5468b8"/></svg>
<div class="abs" style="left:122px;top:48px;font-size:12px;line-height:14px;color:#000">3.00</div>
<div class="abs" style="left:26px;top:84.5px;font-size:12px;line-height:13px;font-weight:bold;color:#fff">0.91</div>
<div class="abs" style="left:53px;top:66px;font-size:34.5px;line-height:36px;color:#fff;letter-spacing:-0.8px;-webkit-text-stroke:0.8px #c81a1a;transform:scaleX(0.93);transform-origin:0 0">60</div>
<div class="abs" style="left:92.5px;top:69.5px;font-size:12px;line-height:13px;font-weight:bold;color:#fff">5</div>
<div class="abs" style="left:136px;top:84.5px;font-size:12px;line-height:13px;font-weight:bold;color:#fff">0.91</div>
<div class="abs" style="left:164px;top:66px;font-size:34.5px;line-height:36px;color:#fff;letter-spacing:-0.8px;-webkit-text-stroke:0.8px #c81a1a;transform:scaleX(0.93);transform-origin:0 0">62</div>
<div class="abs" style="left:203.5px;top:69.5px;font-size:12px;line-height:13px;font-weight:bold;color:#fff">0</div>

<div class="abs" style="left:0;top:681px;width:1205px;height:1px;background:#e6e6e6"></div>
<div class="abs" style="left:0;top:683px;width:1205px;height:1px;background:#000"></div>
<div class="tabbar"></div>
<div class="abs" style="left:0;top:703px;width:1205px;height:1px;background:#fff"></div>
<div class="abs" style="left:0;top:684px;width:1205px;height:1px;background:#f8f8f8"></div>
<div class="abs" style="left:0;top:707px;width:1205px;height:1px;background:#a8a8a8"></div>
<div class="abs" style="left:0;top:708px;width:1205px;height:1px;background:#d4d4d4"></div>
<div class="abs" style="left:212px;top:683px;width:88px;height:19px;box-sizing:border-box;background:#fff;border-left:1px solid #000;border-bottom:2px solid #000;border-right:2px solid #000"></div>
<div class="tab" style="left:16px">EURUSD,Daily</div>
<div class="tab" style="left:119px">AUDUSD,Daily</div>
<div class="tab" style="left:222.5px;color:#000">USDCHF,H4</div>
<div class="tab" style="left:311px">USDCAD,Daily</div>
<div class="tab" style="left:414px">USDCNH,Daily</div>
<div class="tab" style="left:520px">UKOil,H4</div>
<div class="tab" style="left:594px">DJ30,H1</div>
<div class="tab" style="left:664px">USDX,H1</div>
<div class="tab" style="left:738.7px">XAUUSD,H4</div>
<div class="tab" style="left:832px">GBPUSD,H1</div>
<div class="tab" style="left:923.4px">USDX,Weekly</div>
<div class="sep" style="left:108px"></div>
<div class="sep" style="left:404px"></div>
<div class="sep" style="left:508px"></div>
<div class="sep" style="left:584px"></div>
<div class="sep" style="left:653px"></div>
<div class="sep" style="left:728px"></div>
<div class="sep" style="left:821px"></div>
<div class="sep" style="left:912px"></div>
<div class="sep" style="left:1012px"></div>
<svg class="abs" style="left:1180px;top:688px" width="25" height="9"><path d="M4.5 0.5v7L0.8 4z" fill="#999"/><path d="M20 0.5v7L23.7 4z" fill="#999"/></svg>
</body></html>
